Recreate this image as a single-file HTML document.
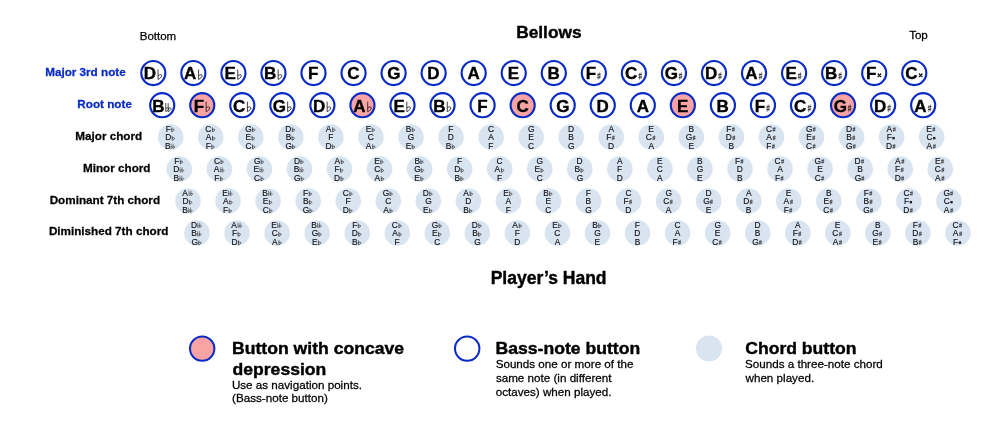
<!DOCTYPE html>
<html><head><meta charset="utf-8"><title>Stradella bass</title>
<style>
html,body{margin:0;padding:0;background:#fff;}
body{width:990px;height:435px;overflow:hidden;}
svg{display:block;will-change:transform;font-family:"Liberation Sans", sans-serif;}
</style></head>
<body>
<svg width="990" height="435" viewBox="0 0 990 435">
<text x="139.76" y="39.60" font-size="11.5" font-weight="normal" fill="#000" stroke="#000" stroke-width="0.25" text-anchor="start" >Bottom</text>
<text x="909.14" y="39.40" font-size="11.6" font-weight="normal" fill="#000" stroke="#000" stroke-width="0.26" text-anchor="start" >Top</text>
<text x="516.14" y="38.30" font-size="17.35" font-weight="bold" fill="#000" stroke="#000" stroke-width="0.38" text-anchor="start" >Bellows</text>
<text x="490.63" y="284.20" font-size="17.55" font-weight="bold" fill="#000" stroke="#000" stroke-width="0.39" text-anchor="start" >Player’s Hand</text>
<text x="125.70" y="75.50" font-size="11.7" font-weight="bold" fill="#0a2ac4" stroke="#0a2ac4" stroke-width="0.26" text-anchor="end" >Major 3rd note</text>
<text x="131.90" y="107.80" font-size="11.7" font-weight="bold" fill="#0a2ac4" stroke="#0a2ac4" stroke-width="0.26" text-anchor="end" >Root note</text>
<text x="142.17" y="139.70" font-size="11.7" font-weight="bold" fill="#000" stroke="#000" stroke-width="0.26" text-anchor="end" >Major chord</text>
<text x="150.47" y="171.50" font-size="11.7" font-weight="bold" fill="#000" stroke="#000" stroke-width="0.26" text-anchor="end" >Minor chord</text>
<text x="160.07" y="203.50" font-size="11.7" font-weight="bold" fill="#000" stroke="#000" stroke-width="0.26" text-anchor="end" >Dominant 7th chord</text>
<text x="168.37" y="235.10" font-size="11.7" font-weight="bold" fill="#000" stroke="#000" stroke-width="0.26" text-anchor="end" >Diminished 7th chord</text>
<circle cx="153.30" cy="73" r="12.05" fill="#fff" stroke="#0a2ac4" stroke-width="2.15"/>
<text x="143.85" y="79.45" font-size="17.0" font-weight="bold" fill="#000" stroke="#000" stroke-width="0.37" text-anchor="start" >D</text>
<path transform="translate(157.61,69.45)" d="M0.45,0 V10 C2.6,8.9 4.0,7.7 4.0,6.4 C4.0,5.0 2.3,4.7 0.45,6.3" fill="none" stroke="#111" stroke-width="0.8"/>
<circle cx="193.35" cy="73" r="12.05" fill="#fff" stroke="#0a2ac4" stroke-width="2.15"/>
<text x="184.12" y="79.45" font-size="17.0" font-weight="bold" fill="#000" stroke="#000" stroke-width="0.37" text-anchor="start" >A</text>
<path transform="translate(198.15,69.45)" d="M0.45,0 V10 C2.6,8.9 4.0,7.7 4.0,6.4 C4.0,5.0 2.3,4.7 0.45,6.3" fill="none" stroke="#111" stroke-width="0.8"/>
<circle cx="233.40" cy="73" r="12.05" fill="#fff" stroke="#0a2ac4" stroke-width="2.15"/>
<text x="224.39" y="79.45" font-size="17.0" font-weight="bold" fill="#000" stroke="#000" stroke-width="0.37" text-anchor="start" >E</text>
<path transform="translate(237.27,69.45)" d="M0.45,0 V10 C2.6,8.9 4.0,7.7 4.0,6.4 C4.0,5.0 2.3,4.7 0.45,6.3" fill="none" stroke="#111" stroke-width="0.8"/>
<circle cx="273.45" cy="73" r="12.05" fill="#fff" stroke="#0a2ac4" stroke-width="2.15"/>
<text x="264.03" y="79.45" font-size="17.0" font-weight="bold" fill="#000" stroke="#000" stroke-width="0.37" text-anchor="start" >B</text>
<path transform="translate(277.73,69.45)" d="M0.45,0 V10 C2.6,8.9 4.0,7.7 4.0,6.4 C4.0,5.0 2.3,4.7 0.45,6.3" fill="none" stroke="#111" stroke-width="0.8"/>
<circle cx="313.50" cy="73" r="12.05" fill="#fff" stroke="#0a2ac4" stroke-width="2.15"/>
<text x="308.05" y="79.45" font-size="17.0" font-weight="bold" fill="#000" stroke="#000" stroke-width="0.37" text-anchor="start" >F</text>
<circle cx="353.55" cy="73" r="12.05" fill="#fff" stroke="#0a2ac4" stroke-width="2.15"/>
<text x="347.30" y="79.45" font-size="17.0" font-weight="bold" fill="#000" stroke="#000" stroke-width="0.37" text-anchor="start" >C</text>
<circle cx="393.60" cy="73" r="12.05" fill="#fff" stroke="#0a2ac4" stroke-width="2.15"/>
<text x="387.17" y="79.45" font-size="17.0" font-weight="bold" fill="#000" stroke="#000" stroke-width="0.37" text-anchor="start" >G</text>
<circle cx="433.65" cy="73" r="12.05" fill="#fff" stroke="#0a2ac4" stroke-width="2.15"/>
<text x="427.30" y="79.45" font-size="17.0" font-weight="bold" fill="#000" stroke="#000" stroke-width="0.37" text-anchor="start" >D</text>
<circle cx="473.70" cy="73" r="12.05" fill="#fff" stroke="#0a2ac4" stroke-width="2.15"/>
<text x="467.57" y="79.45" font-size="17.0" font-weight="bold" fill="#000" stroke="#000" stroke-width="0.37" text-anchor="start" >A</text>
<circle cx="513.75" cy="73" r="12.05" fill="#fff" stroke="#0a2ac4" stroke-width="2.15"/>
<text x="507.84" y="79.45" font-size="17.0" font-weight="bold" fill="#000" stroke="#000" stroke-width="0.37" text-anchor="start" >E</text>
<circle cx="553.80" cy="73" r="12.05" fill="#fff" stroke="#0a2ac4" stroke-width="2.15"/>
<text x="547.48" y="79.45" font-size="17.0" font-weight="bold" fill="#000" stroke="#000" stroke-width="0.37" text-anchor="start" >B</text>
<circle cx="593.85" cy="73" r="12.05" fill="#fff" stroke="#0a2ac4" stroke-width="2.15"/>
<text x="585.65" y="79.45" font-size="17.0" font-weight="bold" fill="#000" stroke="#000" stroke-width="0.37" text-anchor="start" >F</text>
<g transform="translate(597.01,72.05)"><path d="M1.2,0.9 V7.6 M2.7,0.2 V6.9" fill="none" stroke="#111" stroke-width="0.5"/><path d="M0.2,3.0 L3.7,2.1 M0.2,5.6 L3.7,4.7" fill="none" stroke="#111" stroke-width="0.85"/></g>
<circle cx="633.90" cy="73" r="12.05" fill="#fff" stroke="#0a2ac4" stroke-width="2.15"/>
<text x="624.90" y="79.45" font-size="17.0" font-weight="bold" fill="#000" stroke="#000" stroke-width="0.37" text-anchor="start" >C</text>
<g transform="translate(638.31,72.05)"><path d="M1.2,0.9 V7.6 M2.7,0.2 V6.9" fill="none" stroke="#111" stroke-width="0.5"/><path d="M0.2,3.0 L3.7,2.1 M0.2,5.6 L3.7,4.7" fill="none" stroke="#111" stroke-width="0.85"/></g>
<circle cx="673.95" cy="73" r="12.05" fill="#fff" stroke="#0a2ac4" stroke-width="2.15"/>
<text x="664.77" y="79.45" font-size="17.0" font-weight="bold" fill="#000" stroke="#000" stroke-width="0.37" text-anchor="start" >G</text>
<g transform="translate(678.54,72.05)"><path d="M1.2,0.9 V7.6 M2.7,0.2 V6.9" fill="none" stroke="#111" stroke-width="0.5"/><path d="M0.2,3.0 L3.7,2.1 M0.2,5.6 L3.7,4.7" fill="none" stroke="#111" stroke-width="0.85"/></g>
<circle cx="714.00" cy="73" r="12.05" fill="#fff" stroke="#0a2ac4" stroke-width="2.15"/>
<text x="704.90" y="79.45" font-size="17.0" font-weight="bold" fill="#000" stroke="#000" stroke-width="0.37" text-anchor="start" >D</text>
<g transform="translate(718.06,72.05)"><path d="M1.2,0.9 V7.6 M2.7,0.2 V6.9" fill="none" stroke="#111" stroke-width="0.5"/><path d="M0.2,3.0 L3.7,2.1 M0.2,5.6 L3.7,4.7" fill="none" stroke="#111" stroke-width="0.85"/></g>
<circle cx="754.05" cy="73" r="12.05" fill="#fff" stroke="#0a2ac4" stroke-width="2.15"/>
<text x="745.17" y="79.45" font-size="17.0" font-weight="bold" fill="#000" stroke="#000" stroke-width="0.37" text-anchor="start" >A</text>
<g transform="translate(758.60,72.05)"><path d="M1.2,0.9 V7.6 M2.7,0.2 V6.9" fill="none" stroke="#111" stroke-width="0.5"/><path d="M0.2,3.0 L3.7,2.1 M0.2,5.6 L3.7,4.7" fill="none" stroke="#111" stroke-width="0.85"/></g>
<circle cx="794.10" cy="73" r="12.05" fill="#fff" stroke="#0a2ac4" stroke-width="2.15"/>
<text x="785.44" y="79.45" font-size="17.0" font-weight="bold" fill="#000" stroke="#000" stroke-width="0.37" text-anchor="start" >E</text>
<g transform="translate(797.72,72.05)"><path d="M1.2,0.9 V7.6 M2.7,0.2 V6.9" fill="none" stroke="#111" stroke-width="0.5"/><path d="M0.2,3.0 L3.7,2.1 M0.2,5.6 L3.7,4.7" fill="none" stroke="#111" stroke-width="0.85"/></g>
<circle cx="834.15" cy="73" r="12.05" fill="#fff" stroke="#0a2ac4" stroke-width="2.15"/>
<text x="825.08" y="79.45" font-size="17.0" font-weight="bold" fill="#000" stroke="#000" stroke-width="0.37" text-anchor="start" >B</text>
<g transform="translate(838.18,72.05)"><path d="M1.2,0.9 V7.6 M2.7,0.2 V6.9" fill="none" stroke="#111" stroke-width="0.5"/><path d="M0.2,3.0 L3.7,2.1 M0.2,5.6 L3.7,4.7" fill="none" stroke="#111" stroke-width="0.85"/></g>
<circle cx="874.20" cy="73" r="12.05" fill="#fff" stroke="#0a2ac4" stroke-width="2.15"/>
<text x="865.90" y="79.45" font-size="17.0" font-weight="bold" fill="#000" stroke="#000" stroke-width="0.37" text-anchor="start" >F</text>
<g transform="translate(877.36,73.35)"><path d="M0.8,0.8 L3.2,3.2 M3.2,0.8 L0.8,3.2" fill="none" stroke="#111" stroke-width="1.15"/><rect x="1.0" y="1.0" width="2.0" height="2.0" fill="#111" opacity="0.6"/><circle cx="0.75" cy="0.75" r="0.75" fill="#111"/><circle cx="3.25" cy="0.75" r="0.75" fill="#111"/><circle cx="0.75" cy="3.25" r="0.75" fill="#111"/><circle cx="3.25" cy="3.25" r="0.75" fill="#111"/></g>
<circle cx="914.25" cy="73" r="12.05" fill="#fff" stroke="#0a2ac4" stroke-width="2.15"/>
<text x="905.15" y="79.45" font-size="17.0" font-weight="bold" fill="#000" stroke="#000" stroke-width="0.37" text-anchor="start" >C</text>
<g transform="translate(918.66,73.35)"><path d="M0.8,0.8 L3.2,3.2 M3.2,0.8 L0.8,3.2" fill="none" stroke="#111" stroke-width="1.15"/><rect x="1.0" y="1.0" width="2.0" height="2.0" fill="#111" opacity="0.6"/><circle cx="0.75" cy="0.75" r="0.75" fill="#111"/><circle cx="3.25" cy="0.75" r="0.75" fill="#111"/><circle cx="0.75" cy="3.25" r="0.75" fill="#111"/><circle cx="3.25" cy="3.25" r="0.75" fill="#111"/></g>
<circle cx="162.20" cy="105.2" r="12.05" fill="#fff" stroke="#0a2ac4" stroke-width="2.15"/>
<text x="152.18" y="111.65" font-size="17.0" font-weight="bold" fill="#000" stroke="#000" stroke-width="0.37" text-anchor="start" >B</text>
<path transform="translate(165.38,103.15)" d="M0.4,0 V8.5 C2.2,7.6 3.3,6.6 3.3,5.6 C3.3,4.5 1.9,4.3 0.4,5.5 M2.8,0 V8.5 C4.6,7.6 5.7,6.6 5.7,5.6 C5.7,4.5 4.3,4.3 2.8,5.5" fill="none" stroke="#111" stroke-width="0.75"/>
<circle cx="202.25" cy="105.2" r="12.05" fill="#f9a3a5" stroke="#0a2ac4" stroke-width="2.15"/>
<text x="193.70" y="111.65" font-size="17.0" font-weight="bold" fill="#000" stroke="#000" stroke-width="0.37" text-anchor="start" >F</text>
<path transform="translate(205.66,101.65)" d="M0.45,0 V10 C2.6,8.9 4.0,7.7 4.0,6.4 C4.0,5.0 2.3,4.7 0.45,6.3" fill="none" stroke="#111" stroke-width="0.8"/>
<circle cx="242.30" cy="105.2" r="12.05" fill="#fff" stroke="#0a2ac4" stroke-width="2.15"/>
<text x="232.95" y="111.65" font-size="17.0" font-weight="bold" fill="#000" stroke="#000" stroke-width="0.37" text-anchor="start" >C</text>
<path transform="translate(246.96,101.65)" d="M0.45,0 V10 C2.6,8.9 4.0,7.7 4.0,6.4 C4.0,5.0 2.3,4.7 0.45,6.3" fill="none" stroke="#111" stroke-width="0.8"/>
<circle cx="282.35" cy="105.2" r="12.05" fill="#fff" stroke="#0a2ac4" stroke-width="2.15"/>
<text x="272.82" y="111.65" font-size="17.0" font-weight="bold" fill="#000" stroke="#000" stroke-width="0.37" text-anchor="start" >G</text>
<path transform="translate(287.19,101.65)" d="M0.45,0 V10 C2.6,8.9 4.0,7.7 4.0,6.4 C4.0,5.0 2.3,4.7 0.45,6.3" fill="none" stroke="#111" stroke-width="0.8"/>
<circle cx="322.40" cy="105.2" r="12.05" fill="#fff" stroke="#0a2ac4" stroke-width="2.15"/>
<text x="312.95" y="111.65" font-size="17.0" font-weight="bold" fill="#000" stroke="#000" stroke-width="0.37" text-anchor="start" >D</text>
<path transform="translate(326.71,101.65)" d="M0.45,0 V10 C2.6,8.9 4.0,7.7 4.0,6.4 C4.0,5.0 2.3,4.7 0.45,6.3" fill="none" stroke="#111" stroke-width="0.8"/>
<circle cx="362.45" cy="105.2" r="12.05" fill="#f9a3a5" stroke="#0a2ac4" stroke-width="2.15"/>
<text x="353.22" y="111.65" font-size="17.0" font-weight="bold" fill="#000" stroke="#000" stroke-width="0.37" text-anchor="start" >A</text>
<path transform="translate(367.25,101.65)" d="M0.45,0 V10 C2.6,8.9 4.0,7.7 4.0,6.4 C4.0,5.0 2.3,4.7 0.45,6.3" fill="none" stroke="#111" stroke-width="0.8"/>
<circle cx="402.50" cy="105.2" r="12.05" fill="#fff" stroke="#0a2ac4" stroke-width="2.15"/>
<text x="393.49" y="111.65" font-size="17.0" font-weight="bold" fill="#000" stroke="#000" stroke-width="0.37" text-anchor="start" >E</text>
<path transform="translate(406.37,101.65)" d="M0.45,0 V10 C2.6,8.9 4.0,7.7 4.0,6.4 C4.0,5.0 2.3,4.7 0.45,6.3" fill="none" stroke="#111" stroke-width="0.8"/>
<circle cx="442.55" cy="105.2" r="12.05" fill="#fff" stroke="#0a2ac4" stroke-width="2.15"/>
<text x="433.13" y="111.65" font-size="17.0" font-weight="bold" fill="#000" stroke="#000" stroke-width="0.37" text-anchor="start" >B</text>
<path transform="translate(446.83,101.65)" d="M0.45,0 V10 C2.6,8.9 4.0,7.7 4.0,6.4 C4.0,5.0 2.3,4.7 0.45,6.3" fill="none" stroke="#111" stroke-width="0.8"/>
<circle cx="482.60" cy="105.2" r="12.05" fill="#fff" stroke="#0a2ac4" stroke-width="2.15"/>
<text x="477.15" y="111.65" font-size="17.0" font-weight="bold" fill="#000" stroke="#000" stroke-width="0.37" text-anchor="start" >F</text>
<circle cx="522.65" cy="105.2" r="12.05" fill="#f9a3a5" stroke="#0a2ac4" stroke-width="2.15"/>
<text x="516.40" y="111.65" font-size="17.0" font-weight="bold" fill="#000" stroke="#000" stroke-width="0.37" text-anchor="start" >C</text>
<circle cx="562.70" cy="105.2" r="12.05" fill="#fff" stroke="#0a2ac4" stroke-width="2.15"/>
<text x="556.27" y="111.65" font-size="17.0" font-weight="bold" fill="#000" stroke="#000" stroke-width="0.37" text-anchor="start" >G</text>
<circle cx="602.75" cy="105.2" r="12.05" fill="#fff" stroke="#0a2ac4" stroke-width="2.15"/>
<text x="596.40" y="111.65" font-size="17.0" font-weight="bold" fill="#000" stroke="#000" stroke-width="0.37" text-anchor="start" >D</text>
<circle cx="642.80" cy="105.2" r="12.05" fill="#fff" stroke="#0a2ac4" stroke-width="2.15"/>
<text x="636.67" y="111.65" font-size="17.0" font-weight="bold" fill="#000" stroke="#000" stroke-width="0.37" text-anchor="start" >A</text>
<circle cx="682.85" cy="105.2" r="12.05" fill="#f9a3a5" stroke="#0a2ac4" stroke-width="2.15"/>
<text x="676.94" y="111.65" font-size="17.0" font-weight="bold" fill="#000" stroke="#000" stroke-width="0.37" text-anchor="start" >E</text>
<circle cx="722.90" cy="105.2" r="12.05" fill="#fff" stroke="#0a2ac4" stroke-width="2.15"/>
<text x="716.58" y="111.65" font-size="17.0" font-weight="bold" fill="#000" stroke="#000" stroke-width="0.37" text-anchor="start" >B</text>
<circle cx="762.95" cy="105.2" r="12.05" fill="#fff" stroke="#0a2ac4" stroke-width="2.15"/>
<text x="754.75" y="111.65" font-size="17.0" font-weight="bold" fill="#000" stroke="#000" stroke-width="0.37" text-anchor="start" >F</text>
<g transform="translate(766.11,104.25)"><path d="M1.2,0.9 V7.6 M2.7,0.2 V6.9" fill="none" stroke="#111" stroke-width="0.5"/><path d="M0.2,3.0 L3.7,2.1 M0.2,5.6 L3.7,4.7" fill="none" stroke="#111" stroke-width="0.85"/></g>
<circle cx="803.00" cy="105.2" r="12.05" fill="#fff" stroke="#0a2ac4" stroke-width="2.15"/>
<text x="794.00" y="111.65" font-size="17.0" font-weight="bold" fill="#000" stroke="#000" stroke-width="0.37" text-anchor="start" >C</text>
<g transform="translate(807.41,104.25)"><path d="M1.2,0.9 V7.6 M2.7,0.2 V6.9" fill="none" stroke="#111" stroke-width="0.5"/><path d="M0.2,3.0 L3.7,2.1 M0.2,5.6 L3.7,4.7" fill="none" stroke="#111" stroke-width="0.85"/></g>
<circle cx="843.05" cy="105.2" r="12.05" fill="#f9a3a5" stroke="#0a2ac4" stroke-width="2.15"/>
<text x="833.87" y="111.65" font-size="17.0" font-weight="bold" fill="#000" stroke="#000" stroke-width="0.37" text-anchor="start" >G</text>
<g transform="translate(847.64,104.25)"><path d="M1.2,0.9 V7.6 M2.7,0.2 V6.9" fill="none" stroke="#111" stroke-width="0.5"/><path d="M0.2,3.0 L3.7,2.1 M0.2,5.6 L3.7,4.7" fill="none" stroke="#111" stroke-width="0.85"/></g>
<circle cx="883.10" cy="105.2" r="12.05" fill="#fff" stroke="#0a2ac4" stroke-width="2.15"/>
<text x="874.00" y="111.65" font-size="17.0" font-weight="bold" fill="#000" stroke="#000" stroke-width="0.37" text-anchor="start" >D</text>
<g transform="translate(887.16,104.25)"><path d="M1.2,0.9 V7.6 M2.7,0.2 V6.9" fill="none" stroke="#111" stroke-width="0.5"/><path d="M0.2,3.0 L3.7,2.1 M0.2,5.6 L3.7,4.7" fill="none" stroke="#111" stroke-width="0.85"/></g>
<circle cx="923.15" cy="105.2" r="12.05" fill="#fff" stroke="#0a2ac4" stroke-width="2.15"/>
<text x="914.27" y="111.65" font-size="17.0" font-weight="bold" fill="#000" stroke="#000" stroke-width="0.37" text-anchor="start" >A</text>
<g transform="translate(927.70,104.25)"><path d="M1.2,0.9 V7.6 M2.7,0.2 V6.9" fill="none" stroke="#111" stroke-width="0.5"/><path d="M0.2,3.0 L3.7,2.1 M0.2,5.6 L3.7,4.7" fill="none" stroke="#111" stroke-width="0.85"/></g>
<circle cx="170.70" cy="137" r="12.8" fill="#d9e4f1"/>
<text transform="translate(165.66,131.85) scale(1.0,1.06)" font-size="8.4" font-weight="normal" fill="#111" stroke="#111" stroke-width="0.14" text-anchor="start" >F</text>
<path transform="translate(171.35,127.35)" d="M0.35,0 V4.4 C1.7,4.0 2.7,3.3 2.7,2.5 C2.7,1.6 1.4,1.5 0.35,2.3" fill="none" stroke="#222" stroke-width="0.7"/>
<text transform="translate(165.22,140.35) scale(1.0,1.06)" font-size="8.4" font-weight="normal" fill="#111" stroke="#111" stroke-width="0.14" text-anchor="start" >D</text>
<path transform="translate(171.79,135.85)" d="M0.35,0 V4.4 C1.7,4.0 2.7,3.3 2.7,2.5 C2.7,1.6 1.4,1.5 0.35,2.3" fill="none" stroke="#222" stroke-width="0.7"/>
<text transform="translate(164.88,148.85) scale(1.0,1.06)" font-size="8.4" font-weight="normal" fill="#111" stroke="#111" stroke-width="0.14" text-anchor="start" >B</text>
<path transform="translate(170.84,143.65)" d="M0.3,0 V5.0 C1.3,4.6 2.0,3.9 2.0,3.2 C2.0,2.4 1.1,2.2 0.3,3.0 M2.3,0 V5.0 C3.3,4.6 4.0,3.9 4.0,3.2 C4.0,2.4 3.1,2.2 2.3,3.0" fill="none" stroke="#222" stroke-width="0.5"/>
<circle cx="210.75" cy="137" r="12.8" fill="#d9e4f1"/>
<text transform="translate(205.36,131.85) scale(1.0,1.06)" font-size="8.4" font-weight="normal" fill="#111" stroke="#111" stroke-width="0.14" text-anchor="start" >C</text>
<path transform="translate(212.01,127.35)" d="M0.35,0 V4.4 C1.7,4.0 2.7,3.3 2.7,2.5 C2.7,1.6 1.4,1.5 0.35,2.3" fill="none" stroke="#222" stroke-width="0.7"/>
<text transform="translate(205.65,140.35) scale(1.0,1.06)" font-size="8.4" font-weight="normal" fill="#111" stroke="#111" stroke-width="0.14" text-anchor="start" >A</text>
<path transform="translate(212.13,135.85)" d="M0.35,0 V4.4 C1.7,4.0 2.7,3.3 2.7,2.5 C2.7,1.6 1.4,1.5 0.35,2.3" fill="none" stroke="#222" stroke-width="0.7"/>
<text transform="translate(205.71,148.85) scale(1.0,1.06)" font-size="8.4" font-weight="normal" fill="#111" stroke="#111" stroke-width="0.14" text-anchor="start" >F</text>
<path transform="translate(211.40,144.35)" d="M0.35,0 V4.4 C1.7,4.0 2.7,3.3 2.7,2.5 C2.7,1.6 1.4,1.5 0.35,2.3" fill="none" stroke="#222" stroke-width="0.7"/>
<circle cx="250.80" cy="137" r="12.8" fill="#d9e4f1"/>
<text transform="translate(245.34,131.85) scale(1.0,1.06)" font-size="8.4" font-weight="normal" fill="#111" stroke="#111" stroke-width="0.14" text-anchor="start" >G</text>
<path transform="translate(252.14,127.35)" d="M0.35,0 V4.4 C1.7,4.0 2.7,3.3 2.7,2.5 C2.7,1.6 1.4,1.5 0.35,2.3" fill="none" stroke="#222" stroke-width="0.7"/>
<text transform="translate(245.53,140.35) scale(1.0,1.06)" font-size="8.4" font-weight="normal" fill="#111" stroke="#111" stroke-width="0.14" text-anchor="start" >E</text>
<path transform="translate(251.68,135.85)" d="M0.35,0 V4.4 C1.7,4.0 2.7,3.3 2.7,2.5 C2.7,1.6 1.4,1.5 0.35,2.3" fill="none" stroke="#222" stroke-width="0.7"/>
<text transform="translate(245.41,148.85) scale(1.0,1.06)" font-size="8.4" font-weight="normal" fill="#111" stroke="#111" stroke-width="0.14" text-anchor="start" >C</text>
<path transform="translate(252.06,144.35)" d="M0.35,0 V4.4 C1.7,4.0 2.7,3.3 2.7,2.5 C2.7,1.6 1.4,1.5 0.35,2.3" fill="none" stroke="#222" stroke-width="0.7"/>
<circle cx="290.85" cy="137" r="12.8" fill="#d9e4f1"/>
<text transform="translate(285.37,131.85) scale(1.0,1.06)" font-size="8.4" font-weight="normal" fill="#111" stroke="#111" stroke-width="0.14" text-anchor="start" >D</text>
<path transform="translate(291.94,127.35)" d="M0.35,0 V4.4 C1.7,4.0 2.7,3.3 2.7,2.5 C2.7,1.6 1.4,1.5 0.35,2.3" fill="none" stroke="#222" stroke-width="0.7"/>
<text transform="translate(285.63,140.35) scale(1.0,1.06)" font-size="8.4" font-weight="normal" fill="#111" stroke="#111" stroke-width="0.14" text-anchor="start" >B</text>
<path transform="translate(291.69,135.85)" d="M0.35,0 V4.4 C1.7,4.0 2.7,3.3 2.7,2.5 C2.7,1.6 1.4,1.5 0.35,2.3" fill="none" stroke="#222" stroke-width="0.7"/>
<text transform="translate(285.39,148.85) scale(1.0,1.06)" font-size="8.4" font-weight="normal" fill="#111" stroke="#111" stroke-width="0.14" text-anchor="start" >G</text>
<path transform="translate(292.19,144.35)" d="M0.35,0 V4.4 C1.7,4.0 2.7,3.3 2.7,2.5 C2.7,1.6 1.4,1.5 0.35,2.3" fill="none" stroke="#222" stroke-width="0.7"/>
<circle cx="330.90" cy="137" r="12.8" fill="#d9e4f1"/>
<text transform="translate(325.80,131.85) scale(1.0,1.06)" font-size="8.4" font-weight="normal" fill="#111" stroke="#111" stroke-width="0.14" text-anchor="start" >A</text>
<path transform="translate(332.28,127.35)" d="M0.35,0 V4.4 C1.7,4.0 2.7,3.3 2.7,2.5 C2.7,1.6 1.4,1.5 0.35,2.3" fill="none" stroke="#222" stroke-width="0.7"/>
<text transform="translate(328.16,140.35) scale(1.0,1.06)" font-size="8.4" font-weight="normal" fill="#111" stroke="#111" stroke-width="0.14" text-anchor="start" >F</text>
<text transform="translate(325.42,148.85) scale(1.0,1.06)" font-size="8.4" font-weight="normal" fill="#111" stroke="#111" stroke-width="0.14" text-anchor="start" >D</text>
<path transform="translate(331.99,144.35)" d="M0.35,0 V4.4 C1.7,4.0 2.7,3.3 2.7,2.5 C2.7,1.6 1.4,1.5 0.35,2.3" fill="none" stroke="#222" stroke-width="0.7"/>
<circle cx="370.95" cy="137" r="12.8" fill="#d9e4f1"/>
<text transform="translate(365.68,131.85) scale(1.0,1.06)" font-size="8.4" font-weight="normal" fill="#111" stroke="#111" stroke-width="0.14" text-anchor="start" >E</text>
<path transform="translate(371.83,127.35)" d="M0.35,0 V4.4 C1.7,4.0 2.7,3.3 2.7,2.5 C2.7,1.6 1.4,1.5 0.35,2.3" fill="none" stroke="#222" stroke-width="0.7"/>
<text transform="translate(367.86,140.35) scale(1.0,1.06)" font-size="8.4" font-weight="normal" fill="#111" stroke="#111" stroke-width="0.14" text-anchor="start" >C</text>
<text transform="translate(365.85,148.85) scale(1.0,1.06)" font-size="8.4" font-weight="normal" fill="#111" stroke="#111" stroke-width="0.14" text-anchor="start" >A</text>
<path transform="translate(372.33,144.35)" d="M0.35,0 V4.4 C1.7,4.0 2.7,3.3 2.7,2.5 C2.7,1.6 1.4,1.5 0.35,2.3" fill="none" stroke="#222" stroke-width="0.7"/>
<circle cx="411.00" cy="137" r="12.8" fill="#d9e4f1"/>
<text transform="translate(405.78,131.85) scale(1.0,1.06)" font-size="8.4" font-weight="normal" fill="#111" stroke="#111" stroke-width="0.14" text-anchor="start" >B</text>
<path transform="translate(411.84,127.35)" d="M0.35,0 V4.4 C1.7,4.0 2.7,3.3 2.7,2.5 C2.7,1.6 1.4,1.5 0.35,2.3" fill="none" stroke="#222" stroke-width="0.7"/>
<text transform="translate(407.84,140.35) scale(1.0,1.06)" font-size="8.4" font-weight="normal" fill="#111" stroke="#111" stroke-width="0.14" text-anchor="start" >G</text>
<text transform="translate(405.73,148.85) scale(1.0,1.06)" font-size="8.4" font-weight="normal" fill="#111" stroke="#111" stroke-width="0.14" text-anchor="start" >E</text>
<path transform="translate(411.88,144.35)" d="M0.35,0 V4.4 C1.7,4.0 2.7,3.3 2.7,2.5 C2.7,1.6 1.4,1.5 0.35,2.3" fill="none" stroke="#222" stroke-width="0.7"/>
<circle cx="451.05" cy="137" r="12.8" fill="#d9e4f1"/>
<text transform="translate(448.31,131.85) scale(1.0,1.06)" font-size="8.4" font-weight="normal" fill="#111" stroke="#111" stroke-width="0.14" text-anchor="start" >F</text>
<text transform="translate(447.87,140.35) scale(1.0,1.06)" font-size="8.4" font-weight="normal" fill="#111" stroke="#111" stroke-width="0.14" text-anchor="start" >D</text>
<text transform="translate(445.83,148.85) scale(1.0,1.06)" font-size="8.4" font-weight="normal" fill="#111" stroke="#111" stroke-width="0.14" text-anchor="start" >B</text>
<path transform="translate(451.89,144.35)" d="M0.35,0 V4.4 C1.7,4.0 2.7,3.3 2.7,2.5 C2.7,1.6 1.4,1.5 0.35,2.3" fill="none" stroke="#222" stroke-width="0.7"/>
<circle cx="491.10" cy="137" r="12.8" fill="#d9e4f1"/>
<text transform="translate(488.01,131.85) scale(1.0,1.06)" font-size="8.4" font-weight="normal" fill="#111" stroke="#111" stroke-width="0.14" text-anchor="start" >C</text>
<text transform="translate(488.30,140.35) scale(1.0,1.06)" font-size="8.4" font-weight="normal" fill="#111" stroke="#111" stroke-width="0.14" text-anchor="start" >A</text>
<text transform="translate(488.36,148.85) scale(1.0,1.06)" font-size="8.4" font-weight="normal" fill="#111" stroke="#111" stroke-width="0.14" text-anchor="start" >F</text>
<circle cx="531.15" cy="137" r="12.8" fill="#d9e4f1"/>
<text transform="translate(527.99,131.85) scale(1.0,1.06)" font-size="8.4" font-weight="normal" fill="#111" stroke="#111" stroke-width="0.14" text-anchor="start" >G</text>
<text transform="translate(528.18,140.35) scale(1.0,1.06)" font-size="8.4" font-weight="normal" fill="#111" stroke="#111" stroke-width="0.14" text-anchor="start" >E</text>
<text transform="translate(528.06,148.85) scale(1.0,1.06)" font-size="8.4" font-weight="normal" fill="#111" stroke="#111" stroke-width="0.14" text-anchor="start" >C</text>
<circle cx="571.20" cy="137" r="12.8" fill="#d9e4f1"/>
<text transform="translate(568.02,131.85) scale(1.0,1.06)" font-size="8.4" font-weight="normal" fill="#111" stroke="#111" stroke-width="0.14" text-anchor="start" >D</text>
<text transform="translate(568.28,140.35) scale(1.0,1.06)" font-size="8.4" font-weight="normal" fill="#111" stroke="#111" stroke-width="0.14" text-anchor="start" >B</text>
<text transform="translate(568.04,148.85) scale(1.0,1.06)" font-size="8.4" font-weight="normal" fill="#111" stroke="#111" stroke-width="0.14" text-anchor="start" >G</text>
<circle cx="611.25" cy="137" r="12.8" fill="#d9e4f1"/>
<text transform="translate(608.45,131.85) scale(1.0,1.06)" font-size="8.4" font-weight="normal" fill="#111" stroke="#111" stroke-width="0.14" text-anchor="start" >A</text>
<text transform="translate(606.16,140.35) scale(1.0,1.06)" font-size="8.4" font-weight="normal" fill="#111" stroke="#111" stroke-width="0.14" text-anchor="start" >F</text>
<g transform="translate(611.65,135.35)"><path d="M1.0,0.5 V5 M2.2,0 V4.5" fill="none" stroke="#222" stroke-width="0.45"/><path d="M0.1,2.0 L3.0,1.3 M0.1,3.8 L3.0,3.1" fill="none" stroke="#222" stroke-width="0.7"/></g>
<text transform="translate(608.07,148.85) scale(1.0,1.06)" font-size="8.4" font-weight="normal" fill="#111" stroke="#111" stroke-width="0.14" text-anchor="start" >D</text>
<circle cx="651.30" cy="137" r="12.8" fill="#d9e4f1"/>
<text transform="translate(648.33,131.85) scale(1.0,1.06)" font-size="8.4" font-weight="normal" fill="#111" stroke="#111" stroke-width="0.14" text-anchor="start" >E</text>
<text transform="translate(645.86,140.35) scale(1.0,1.06)" font-size="8.4" font-weight="normal" fill="#111" stroke="#111" stroke-width="0.14" text-anchor="start" >C</text>
<g transform="translate(652.31,135.35)"><path d="M1.0,0.5 V5 M2.2,0 V4.5" fill="none" stroke="#222" stroke-width="0.45"/><path d="M0.1,2.0 L3.0,1.3 M0.1,3.8 L3.0,3.1" fill="none" stroke="#222" stroke-width="0.7"/></g>
<text transform="translate(648.50,148.85) scale(1.0,1.06)" font-size="8.4" font-weight="normal" fill="#111" stroke="#111" stroke-width="0.14" text-anchor="start" >A</text>
<circle cx="691.35" cy="137" r="12.8" fill="#d9e4f1"/>
<text transform="translate(688.43,131.85) scale(1.0,1.06)" font-size="8.4" font-weight="normal" fill="#111" stroke="#111" stroke-width="0.14" text-anchor="start" >B</text>
<text transform="translate(685.84,140.35) scale(1.0,1.06)" font-size="8.4" font-weight="normal" fill="#111" stroke="#111" stroke-width="0.14" text-anchor="start" >G</text>
<g transform="translate(692.44,135.35)"><path d="M1.0,0.5 V5 M2.2,0 V4.5" fill="none" stroke="#222" stroke-width="0.45"/><path d="M0.1,2.0 L3.0,1.3 M0.1,3.8 L3.0,3.1" fill="none" stroke="#222" stroke-width="0.7"/></g>
<text transform="translate(688.38,148.85) scale(1.0,1.06)" font-size="8.4" font-weight="normal" fill="#111" stroke="#111" stroke-width="0.14" text-anchor="start" >E</text>
<circle cx="731.40" cy="137" r="12.8" fill="#d9e4f1"/>
<text transform="translate(726.31,131.85) scale(1.0,1.06)" font-size="8.4" font-weight="normal" fill="#111" stroke="#111" stroke-width="0.14" text-anchor="start" >F</text>
<g transform="translate(731.80,126.85)"><path d="M1.0,0.5 V5 M2.2,0 V4.5" fill="none" stroke="#222" stroke-width="0.45"/><path d="M0.1,2.0 L3.0,1.3 M0.1,3.8 L3.0,3.1" fill="none" stroke="#222" stroke-width="0.7"/></g>
<text transform="translate(725.87,140.35) scale(1.0,1.06)" font-size="8.4" font-weight="normal" fill="#111" stroke="#111" stroke-width="0.14" text-anchor="start" >D</text>
<g transform="translate(732.24,135.35)"><path d="M1.0,0.5 V5 M2.2,0 V4.5" fill="none" stroke="#222" stroke-width="0.45"/><path d="M0.1,2.0 L3.0,1.3 M0.1,3.8 L3.0,3.1" fill="none" stroke="#222" stroke-width="0.7"/></g>
<text transform="translate(728.48,148.85) scale(1.0,1.06)" font-size="8.4" font-weight="normal" fill="#111" stroke="#111" stroke-width="0.14" text-anchor="start" >B</text>
<circle cx="771.45" cy="137" r="12.8" fill="#d9e4f1"/>
<text transform="translate(766.01,131.85) scale(1.0,1.06)" font-size="8.4" font-weight="normal" fill="#111" stroke="#111" stroke-width="0.14" text-anchor="start" >C</text>
<g transform="translate(772.46,126.85)"><path d="M1.0,0.5 V5 M2.2,0 V4.5" fill="none" stroke="#222" stroke-width="0.45"/><path d="M0.1,2.0 L3.0,1.3 M0.1,3.8 L3.0,3.1" fill="none" stroke="#222" stroke-width="0.7"/></g>
<text transform="translate(766.30,140.35) scale(1.0,1.06)" font-size="8.4" font-weight="normal" fill="#111" stroke="#111" stroke-width="0.14" text-anchor="start" >A</text>
<g transform="translate(772.58,135.35)"><path d="M1.0,0.5 V5 M2.2,0 V4.5" fill="none" stroke="#222" stroke-width="0.45"/><path d="M0.1,2.0 L3.0,1.3 M0.1,3.8 L3.0,3.1" fill="none" stroke="#222" stroke-width="0.7"/></g>
<text transform="translate(766.36,148.85) scale(1.0,1.06)" font-size="8.4" font-weight="normal" fill="#111" stroke="#111" stroke-width="0.14" text-anchor="start" >F</text>
<g transform="translate(771.85,143.85)"><path d="M1.0,0.5 V5 M2.2,0 V4.5" fill="none" stroke="#222" stroke-width="0.45"/><path d="M0.1,2.0 L3.0,1.3 M0.1,3.8 L3.0,3.1" fill="none" stroke="#222" stroke-width="0.7"/></g>
<circle cx="811.50" cy="137" r="12.8" fill="#d9e4f1"/>
<text transform="translate(805.99,131.85) scale(1.0,1.06)" font-size="8.4" font-weight="normal" fill="#111" stroke="#111" stroke-width="0.14" text-anchor="start" >G</text>
<g transform="translate(812.59,126.85)"><path d="M1.0,0.5 V5 M2.2,0 V4.5" fill="none" stroke="#222" stroke-width="0.45"/><path d="M0.1,2.0 L3.0,1.3 M0.1,3.8 L3.0,3.1" fill="none" stroke="#222" stroke-width="0.7"/></g>
<text transform="translate(806.18,140.35) scale(1.0,1.06)" font-size="8.4" font-weight="normal" fill="#111" stroke="#111" stroke-width="0.14" text-anchor="start" >E</text>
<g transform="translate(812.13,135.35)"><path d="M1.0,0.5 V5 M2.2,0 V4.5" fill="none" stroke="#222" stroke-width="0.45"/><path d="M0.1,2.0 L3.0,1.3 M0.1,3.8 L3.0,3.1" fill="none" stroke="#222" stroke-width="0.7"/></g>
<text transform="translate(806.06,148.85) scale(1.0,1.06)" font-size="8.4" font-weight="normal" fill="#111" stroke="#111" stroke-width="0.14" text-anchor="start" >C</text>
<g transform="translate(812.51,143.85)"><path d="M1.0,0.5 V5 M2.2,0 V4.5" fill="none" stroke="#222" stroke-width="0.45"/><path d="M0.1,2.0 L3.0,1.3 M0.1,3.8 L3.0,3.1" fill="none" stroke="#222" stroke-width="0.7"/></g>
<circle cx="851.55" cy="137" r="12.8" fill="#d9e4f1"/>
<text transform="translate(846.02,131.85) scale(1.0,1.06)" font-size="8.4" font-weight="normal" fill="#111" stroke="#111" stroke-width="0.14" text-anchor="start" >D</text>
<g transform="translate(852.39,126.85)"><path d="M1.0,0.5 V5 M2.2,0 V4.5" fill="none" stroke="#222" stroke-width="0.45"/><path d="M0.1,2.0 L3.0,1.3 M0.1,3.8 L3.0,3.1" fill="none" stroke="#222" stroke-width="0.7"/></g>
<text transform="translate(846.28,140.35) scale(1.0,1.06)" font-size="8.4" font-weight="normal" fill="#111" stroke="#111" stroke-width="0.14" text-anchor="start" >B</text>
<g transform="translate(852.14,135.35)"><path d="M1.0,0.5 V5 M2.2,0 V4.5" fill="none" stroke="#222" stroke-width="0.45"/><path d="M0.1,2.0 L3.0,1.3 M0.1,3.8 L3.0,3.1" fill="none" stroke="#222" stroke-width="0.7"/></g>
<text transform="translate(846.04,148.85) scale(1.0,1.06)" font-size="8.4" font-weight="normal" fill="#111" stroke="#111" stroke-width="0.14" text-anchor="start" >G</text>
<g transform="translate(852.64,143.85)"><path d="M1.0,0.5 V5 M2.2,0 V4.5" fill="none" stroke="#222" stroke-width="0.45"/><path d="M0.1,2.0 L3.0,1.3 M0.1,3.8 L3.0,3.1" fill="none" stroke="#222" stroke-width="0.7"/></g>
<circle cx="891.60" cy="137" r="12.8" fill="#d9e4f1"/>
<text transform="translate(886.45,131.85) scale(1.0,1.06)" font-size="8.4" font-weight="normal" fill="#111" stroke="#111" stroke-width="0.14" text-anchor="start" >A</text>
<g transform="translate(892.73,126.85)"><path d="M1.0,0.5 V5 M2.2,0 V4.5" fill="none" stroke="#222" stroke-width="0.45"/><path d="M0.1,2.0 L3.0,1.3 M0.1,3.8 L3.0,3.1" fill="none" stroke="#222" stroke-width="0.7"/></g>
<text transform="translate(886.76,140.35) scale(1.0,1.06)" font-size="8.4" font-weight="normal" fill="#111" stroke="#111" stroke-width="0.14" text-anchor="start" >F</text>
<rect transform="translate(892.35,136.95)" x="0" y="0" width="2.4" height="2.4" fill="#222"/>
<text transform="translate(886.07,148.85) scale(1.0,1.06)" font-size="8.4" font-weight="normal" fill="#111" stroke="#111" stroke-width="0.14" text-anchor="start" >D</text>
<g transform="translate(892.44,143.85)"><path d="M1.0,0.5 V5 M2.2,0 V4.5" fill="none" stroke="#222" stroke-width="0.45"/><path d="M0.1,2.0 L3.0,1.3 M0.1,3.8 L3.0,3.1" fill="none" stroke="#222" stroke-width="0.7"/></g>
<circle cx="931.65" cy="137" r="12.8" fill="#d9e4f1"/>
<text transform="translate(926.33,131.85) scale(1.0,1.06)" font-size="8.4" font-weight="normal" fill="#111" stroke="#111" stroke-width="0.14" text-anchor="start" >E</text>
<g transform="translate(932.28,126.85)"><path d="M1.0,0.5 V5 M2.2,0 V4.5" fill="none" stroke="#222" stroke-width="0.45"/><path d="M0.1,2.0 L3.0,1.3 M0.1,3.8 L3.0,3.1" fill="none" stroke="#222" stroke-width="0.7"/></g>
<text transform="translate(926.46,140.35) scale(1.0,1.06)" font-size="8.4" font-weight="normal" fill="#111" stroke="#111" stroke-width="0.14" text-anchor="start" >C</text>
<rect transform="translate(933.01,136.95)" x="0" y="0" width="2.4" height="2.4" fill="#222"/>
<text transform="translate(926.50,148.85) scale(1.0,1.06)" font-size="8.4" font-weight="normal" fill="#111" stroke="#111" stroke-width="0.14" text-anchor="start" >A</text>
<g transform="translate(932.78,143.85)"><path d="M1.0,0.5 V5 M2.2,0 V4.5" fill="none" stroke="#222" stroke-width="0.45"/><path d="M0.1,2.0 L3.0,1.3 M0.1,3.8 L3.0,3.1" fill="none" stroke="#222" stroke-width="0.7"/></g>
<circle cx="179.30" cy="169" r="12.8" fill="#d9e4f1"/>
<text transform="translate(174.26,163.85) scale(1.0,1.06)" font-size="8.4" font-weight="normal" fill="#111" stroke="#111" stroke-width="0.14" text-anchor="start" >F</text>
<path transform="translate(179.95,159.35)" d="M0.35,0 V4.4 C1.7,4.0 2.7,3.3 2.7,2.5 C2.7,1.6 1.4,1.5 0.35,2.3" fill="none" stroke="#222" stroke-width="0.7"/>
<text transform="translate(173.22,172.35) scale(1.0,1.06)" font-size="8.4" font-weight="normal" fill="#111" stroke="#111" stroke-width="0.14" text-anchor="start" >D</text>
<path transform="translate(179.69,167.15)" d="M0.3,0 V5.0 C1.3,4.6 2.0,3.9 2.0,3.2 C2.0,2.4 1.1,2.2 0.3,3.0 M2.3,0 V5.0 C3.3,4.6 4.0,3.9 4.0,3.2 C4.0,2.4 3.1,2.2 2.3,3.0" fill="none" stroke="#222" stroke-width="0.5"/>
<text transform="translate(173.48,180.85) scale(1.0,1.06)" font-size="8.4" font-weight="normal" fill="#111" stroke="#111" stroke-width="0.14" text-anchor="start" >B</text>
<path transform="translate(179.44,175.65)" d="M0.3,0 V5.0 C1.3,4.6 2.0,3.9 2.0,3.2 C2.0,2.4 1.1,2.2 0.3,3.0 M2.3,0 V5.0 C3.3,4.6 4.0,3.9 4.0,3.2 C4.0,2.4 3.1,2.2 2.3,3.0" fill="none" stroke="#222" stroke-width="0.5"/>
<circle cx="219.35" cy="169" r="12.8" fill="#d9e4f1"/>
<text transform="translate(213.96,163.85) scale(1.0,1.06)" font-size="8.4" font-weight="normal" fill="#111" stroke="#111" stroke-width="0.14" text-anchor="start" >C</text>
<path transform="translate(220.61,159.35)" d="M0.35,0 V4.4 C1.7,4.0 2.7,3.3 2.7,2.5 C2.7,1.6 1.4,1.5 0.35,2.3" fill="none" stroke="#222" stroke-width="0.7"/>
<text transform="translate(213.65,172.35) scale(1.0,1.06)" font-size="8.4" font-weight="normal" fill="#111" stroke="#111" stroke-width="0.14" text-anchor="start" >A</text>
<path transform="translate(220.03,167.15)" d="M0.3,0 V5.0 C1.3,4.6 2.0,3.9 2.0,3.2 C2.0,2.4 1.1,2.2 0.3,3.0 M2.3,0 V5.0 C3.3,4.6 4.0,3.9 4.0,3.2 C4.0,2.4 3.1,2.2 2.3,3.0" fill="none" stroke="#222" stroke-width="0.5"/>
<text transform="translate(214.31,180.85) scale(1.0,1.06)" font-size="8.4" font-weight="normal" fill="#111" stroke="#111" stroke-width="0.14" text-anchor="start" >F</text>
<path transform="translate(220.00,176.35)" d="M0.35,0 V4.4 C1.7,4.0 2.7,3.3 2.7,2.5 C2.7,1.6 1.4,1.5 0.35,2.3" fill="none" stroke="#222" stroke-width="0.7"/>
<circle cx="259.40" cy="169" r="12.8" fill="#d9e4f1"/>
<text transform="translate(253.94,163.85) scale(1.0,1.06)" font-size="8.4" font-weight="normal" fill="#111" stroke="#111" stroke-width="0.14" text-anchor="start" >G</text>
<path transform="translate(260.74,159.35)" d="M0.35,0 V4.4 C1.7,4.0 2.7,3.3 2.7,2.5 C2.7,1.6 1.4,1.5 0.35,2.3" fill="none" stroke="#222" stroke-width="0.7"/>
<text transform="translate(253.53,172.35) scale(1.0,1.06)" font-size="8.4" font-weight="normal" fill="#111" stroke="#111" stroke-width="0.14" text-anchor="start" >E</text>
<path transform="translate(259.58,167.15)" d="M0.3,0 V5.0 C1.3,4.6 2.0,3.9 2.0,3.2 C2.0,2.4 1.1,2.2 0.3,3.0 M2.3,0 V5.0 C3.3,4.6 4.0,3.9 4.0,3.2 C4.0,2.4 3.1,2.2 2.3,3.0" fill="none" stroke="#222" stroke-width="0.5"/>
<text transform="translate(254.01,180.85) scale(1.0,1.06)" font-size="8.4" font-weight="normal" fill="#111" stroke="#111" stroke-width="0.14" text-anchor="start" >C</text>
<path transform="translate(260.66,176.35)" d="M0.35,0 V4.4 C1.7,4.0 2.7,3.3 2.7,2.5 C2.7,1.6 1.4,1.5 0.35,2.3" fill="none" stroke="#222" stroke-width="0.7"/>
<circle cx="299.45" cy="169" r="12.8" fill="#d9e4f1"/>
<text transform="translate(293.97,163.85) scale(1.0,1.06)" font-size="8.4" font-weight="normal" fill="#111" stroke="#111" stroke-width="0.14" text-anchor="start" >D</text>
<path transform="translate(300.54,159.35)" d="M0.35,0 V4.4 C1.7,4.0 2.7,3.3 2.7,2.5 C2.7,1.6 1.4,1.5 0.35,2.3" fill="none" stroke="#222" stroke-width="0.7"/>
<text transform="translate(293.63,172.35) scale(1.0,1.06)" font-size="8.4" font-weight="normal" fill="#111" stroke="#111" stroke-width="0.14" text-anchor="start" >B</text>
<path transform="translate(299.59,167.15)" d="M0.3,0 V5.0 C1.3,4.6 2.0,3.9 2.0,3.2 C2.0,2.4 1.1,2.2 0.3,3.0 M2.3,0 V5.0 C3.3,4.6 4.0,3.9 4.0,3.2 C4.0,2.4 3.1,2.2 2.3,3.0" fill="none" stroke="#222" stroke-width="0.5"/>
<text transform="translate(293.99,180.85) scale(1.0,1.06)" font-size="8.4" font-weight="normal" fill="#111" stroke="#111" stroke-width="0.14" text-anchor="start" >G</text>
<path transform="translate(300.79,176.35)" d="M0.35,0 V4.4 C1.7,4.0 2.7,3.3 2.7,2.5 C2.7,1.6 1.4,1.5 0.35,2.3" fill="none" stroke="#222" stroke-width="0.7"/>
<circle cx="339.50" cy="169" r="12.8" fill="#d9e4f1"/>
<text transform="translate(334.40,163.85) scale(1.0,1.06)" font-size="8.4" font-weight="normal" fill="#111" stroke="#111" stroke-width="0.14" text-anchor="start" >A</text>
<path transform="translate(340.88,159.35)" d="M0.35,0 V4.4 C1.7,4.0 2.7,3.3 2.7,2.5 C2.7,1.6 1.4,1.5 0.35,2.3" fill="none" stroke="#222" stroke-width="0.7"/>
<text transform="translate(334.46,172.35) scale(1.0,1.06)" font-size="8.4" font-weight="normal" fill="#111" stroke="#111" stroke-width="0.14" text-anchor="start" >F</text>
<path transform="translate(340.15,167.85)" d="M0.35,0 V4.4 C1.7,4.0 2.7,3.3 2.7,2.5 C2.7,1.6 1.4,1.5 0.35,2.3" fill="none" stroke="#222" stroke-width="0.7"/>
<text transform="translate(334.02,180.85) scale(1.0,1.06)" font-size="8.4" font-weight="normal" fill="#111" stroke="#111" stroke-width="0.14" text-anchor="start" >D</text>
<path transform="translate(340.59,176.35)" d="M0.35,0 V4.4 C1.7,4.0 2.7,3.3 2.7,2.5 C2.7,1.6 1.4,1.5 0.35,2.3" fill="none" stroke="#222" stroke-width="0.7"/>
<circle cx="379.55" cy="169" r="12.8" fill="#d9e4f1"/>
<text transform="translate(374.28,163.85) scale(1.0,1.06)" font-size="8.4" font-weight="normal" fill="#111" stroke="#111" stroke-width="0.14" text-anchor="start" >E</text>
<path transform="translate(380.43,159.35)" d="M0.35,0 V4.4 C1.7,4.0 2.7,3.3 2.7,2.5 C2.7,1.6 1.4,1.5 0.35,2.3" fill="none" stroke="#222" stroke-width="0.7"/>
<text transform="translate(374.16,172.35) scale(1.0,1.06)" font-size="8.4" font-weight="normal" fill="#111" stroke="#111" stroke-width="0.14" text-anchor="start" >C</text>
<path transform="translate(380.81,167.85)" d="M0.35,0 V4.4 C1.7,4.0 2.7,3.3 2.7,2.5 C2.7,1.6 1.4,1.5 0.35,2.3" fill="none" stroke="#222" stroke-width="0.7"/>
<text transform="translate(374.45,180.85) scale(1.0,1.06)" font-size="8.4" font-weight="normal" fill="#111" stroke="#111" stroke-width="0.14" text-anchor="start" >A</text>
<path transform="translate(380.93,176.35)" d="M0.35,0 V4.4 C1.7,4.0 2.7,3.3 2.7,2.5 C2.7,1.6 1.4,1.5 0.35,2.3" fill="none" stroke="#222" stroke-width="0.7"/>
<circle cx="419.60" cy="169" r="12.8" fill="#d9e4f1"/>
<text transform="translate(414.38,163.85) scale(1.0,1.06)" font-size="8.4" font-weight="normal" fill="#111" stroke="#111" stroke-width="0.14" text-anchor="start" >B</text>
<path transform="translate(420.44,159.35)" d="M0.35,0 V4.4 C1.7,4.0 2.7,3.3 2.7,2.5 C2.7,1.6 1.4,1.5 0.35,2.3" fill="none" stroke="#222" stroke-width="0.7"/>
<text transform="translate(414.14,172.35) scale(1.0,1.06)" font-size="8.4" font-weight="normal" fill="#111" stroke="#111" stroke-width="0.14" text-anchor="start" >G</text>
<path transform="translate(420.94,167.85)" d="M0.35,0 V4.4 C1.7,4.0 2.7,3.3 2.7,2.5 C2.7,1.6 1.4,1.5 0.35,2.3" fill="none" stroke="#222" stroke-width="0.7"/>
<text transform="translate(414.33,180.85) scale(1.0,1.06)" font-size="8.4" font-weight="normal" fill="#111" stroke="#111" stroke-width="0.14" text-anchor="start" >E</text>
<path transform="translate(420.48,176.35)" d="M0.35,0 V4.4 C1.7,4.0 2.7,3.3 2.7,2.5 C2.7,1.6 1.4,1.5 0.35,2.3" fill="none" stroke="#222" stroke-width="0.7"/>
<circle cx="459.65" cy="169" r="12.8" fill="#d9e4f1"/>
<text transform="translate(456.91,163.85) scale(1.0,1.06)" font-size="8.4" font-weight="normal" fill="#111" stroke="#111" stroke-width="0.14" text-anchor="start" >F</text>
<text transform="translate(454.17,172.35) scale(1.0,1.06)" font-size="8.4" font-weight="normal" fill="#111" stroke="#111" stroke-width="0.14" text-anchor="start" >D</text>
<path transform="translate(460.74,167.85)" d="M0.35,0 V4.4 C1.7,4.0 2.7,3.3 2.7,2.5 C2.7,1.6 1.4,1.5 0.35,2.3" fill="none" stroke="#222" stroke-width="0.7"/>
<text transform="translate(454.43,180.85) scale(1.0,1.06)" font-size="8.4" font-weight="normal" fill="#111" stroke="#111" stroke-width="0.14" text-anchor="start" >B</text>
<path transform="translate(460.49,176.35)" d="M0.35,0 V4.4 C1.7,4.0 2.7,3.3 2.7,2.5 C2.7,1.6 1.4,1.5 0.35,2.3" fill="none" stroke="#222" stroke-width="0.7"/>
<circle cx="499.70" cy="169" r="12.8" fill="#d9e4f1"/>
<text transform="translate(496.61,163.85) scale(1.0,1.06)" font-size="8.4" font-weight="normal" fill="#111" stroke="#111" stroke-width="0.14" text-anchor="start" >C</text>
<text transform="translate(494.60,172.35) scale(1.0,1.06)" font-size="8.4" font-weight="normal" fill="#111" stroke="#111" stroke-width="0.14" text-anchor="start" >A</text>
<path transform="translate(501.08,167.85)" d="M0.35,0 V4.4 C1.7,4.0 2.7,3.3 2.7,2.5 C2.7,1.6 1.4,1.5 0.35,2.3" fill="none" stroke="#222" stroke-width="0.7"/>
<text transform="translate(496.96,180.85) scale(1.0,1.06)" font-size="8.4" font-weight="normal" fill="#111" stroke="#111" stroke-width="0.14" text-anchor="start" >F</text>
<circle cx="539.75" cy="169" r="12.8" fill="#d9e4f1"/>
<text transform="translate(536.59,163.85) scale(1.0,1.06)" font-size="8.4" font-weight="normal" fill="#111" stroke="#111" stroke-width="0.14" text-anchor="start" >G</text>
<text transform="translate(534.48,172.35) scale(1.0,1.06)" font-size="8.4" font-weight="normal" fill="#111" stroke="#111" stroke-width="0.14" text-anchor="start" >E</text>
<path transform="translate(540.63,167.85)" d="M0.35,0 V4.4 C1.7,4.0 2.7,3.3 2.7,2.5 C2.7,1.6 1.4,1.5 0.35,2.3" fill="none" stroke="#222" stroke-width="0.7"/>
<text transform="translate(536.66,180.85) scale(1.0,1.06)" font-size="8.4" font-weight="normal" fill="#111" stroke="#111" stroke-width="0.14" text-anchor="start" >C</text>
<circle cx="579.80" cy="169" r="12.8" fill="#d9e4f1"/>
<text transform="translate(576.62,163.85) scale(1.0,1.06)" font-size="8.4" font-weight="normal" fill="#111" stroke="#111" stroke-width="0.14" text-anchor="start" >D</text>
<text transform="translate(574.58,172.35) scale(1.0,1.06)" font-size="8.4" font-weight="normal" fill="#111" stroke="#111" stroke-width="0.14" text-anchor="start" >B</text>
<path transform="translate(580.64,167.85)" d="M0.35,0 V4.4 C1.7,4.0 2.7,3.3 2.7,2.5 C2.7,1.6 1.4,1.5 0.35,2.3" fill="none" stroke="#222" stroke-width="0.7"/>
<text transform="translate(576.64,180.85) scale(1.0,1.06)" font-size="8.4" font-weight="normal" fill="#111" stroke="#111" stroke-width="0.14" text-anchor="start" >G</text>
<circle cx="619.85" cy="169" r="12.8" fill="#d9e4f1"/>
<text transform="translate(617.05,163.85) scale(1.0,1.06)" font-size="8.4" font-weight="normal" fill="#111" stroke="#111" stroke-width="0.14" text-anchor="start" >A</text>
<text transform="translate(617.11,172.35) scale(1.0,1.06)" font-size="8.4" font-weight="normal" fill="#111" stroke="#111" stroke-width="0.14" text-anchor="start" >F</text>
<text transform="translate(616.67,180.85) scale(1.0,1.06)" font-size="8.4" font-weight="normal" fill="#111" stroke="#111" stroke-width="0.14" text-anchor="start" >D</text>
<circle cx="659.90" cy="169" r="12.8" fill="#d9e4f1"/>
<text transform="translate(656.93,163.85) scale(1.0,1.06)" font-size="8.4" font-weight="normal" fill="#111" stroke="#111" stroke-width="0.14" text-anchor="start" >E</text>
<text transform="translate(656.81,172.35) scale(1.0,1.06)" font-size="8.4" font-weight="normal" fill="#111" stroke="#111" stroke-width="0.14" text-anchor="start" >C</text>
<text transform="translate(657.10,180.85) scale(1.0,1.06)" font-size="8.4" font-weight="normal" fill="#111" stroke="#111" stroke-width="0.14" text-anchor="start" >A</text>
<circle cx="699.95" cy="169" r="12.8" fill="#d9e4f1"/>
<text transform="translate(697.03,163.85) scale(1.0,1.06)" font-size="8.4" font-weight="normal" fill="#111" stroke="#111" stroke-width="0.14" text-anchor="start" >B</text>
<text transform="translate(696.79,172.35) scale(1.0,1.06)" font-size="8.4" font-weight="normal" fill="#111" stroke="#111" stroke-width="0.14" text-anchor="start" >G</text>
<text transform="translate(696.98,180.85) scale(1.0,1.06)" font-size="8.4" font-weight="normal" fill="#111" stroke="#111" stroke-width="0.14" text-anchor="start" >E</text>
<circle cx="740.00" cy="169" r="12.8" fill="#d9e4f1"/>
<text transform="translate(734.91,163.85) scale(1.0,1.06)" font-size="8.4" font-weight="normal" fill="#111" stroke="#111" stroke-width="0.14" text-anchor="start" >F</text>
<g transform="translate(740.40,158.85)"><path d="M1.0,0.5 V5 M2.2,0 V4.5" fill="none" stroke="#222" stroke-width="0.45"/><path d="M0.1,2.0 L3.0,1.3 M0.1,3.8 L3.0,3.1" fill="none" stroke="#222" stroke-width="0.7"/></g>
<text transform="translate(736.82,172.35) scale(1.0,1.06)" font-size="8.4" font-weight="normal" fill="#111" stroke="#111" stroke-width="0.14" text-anchor="start" >D</text>
<text transform="translate(737.08,180.85) scale(1.0,1.06)" font-size="8.4" font-weight="normal" fill="#111" stroke="#111" stroke-width="0.14" text-anchor="start" >B</text>
<circle cx="780.05" cy="169" r="12.8" fill="#d9e4f1"/>
<text transform="translate(774.61,163.85) scale(1.0,1.06)" font-size="8.4" font-weight="normal" fill="#111" stroke="#111" stroke-width="0.14" text-anchor="start" >C</text>
<g transform="translate(781.06,158.85)"><path d="M1.0,0.5 V5 M2.2,0 V4.5" fill="none" stroke="#222" stroke-width="0.45"/><path d="M0.1,2.0 L3.0,1.3 M0.1,3.8 L3.0,3.1" fill="none" stroke="#222" stroke-width="0.7"/></g>
<text transform="translate(777.25,172.35) scale(1.0,1.06)" font-size="8.4" font-weight="normal" fill="#111" stroke="#111" stroke-width="0.14" text-anchor="start" >A</text>
<text transform="translate(774.96,180.85) scale(1.0,1.06)" font-size="8.4" font-weight="normal" fill="#111" stroke="#111" stroke-width="0.14" text-anchor="start" >F</text>
<g transform="translate(780.45,175.85)"><path d="M1.0,0.5 V5 M2.2,0 V4.5" fill="none" stroke="#222" stroke-width="0.45"/><path d="M0.1,2.0 L3.0,1.3 M0.1,3.8 L3.0,3.1" fill="none" stroke="#222" stroke-width="0.7"/></g>
<circle cx="820.10" cy="169" r="12.8" fill="#d9e4f1"/>
<text transform="translate(814.59,163.85) scale(1.0,1.06)" font-size="8.4" font-weight="normal" fill="#111" stroke="#111" stroke-width="0.14" text-anchor="start" >G</text>
<g transform="translate(821.19,158.85)"><path d="M1.0,0.5 V5 M2.2,0 V4.5" fill="none" stroke="#222" stroke-width="0.45"/><path d="M0.1,2.0 L3.0,1.3 M0.1,3.8 L3.0,3.1" fill="none" stroke="#222" stroke-width="0.7"/></g>
<text transform="translate(817.13,172.35) scale(1.0,1.06)" font-size="8.4" font-weight="normal" fill="#111" stroke="#111" stroke-width="0.14" text-anchor="start" >E</text>
<text transform="translate(814.66,180.85) scale(1.0,1.06)" font-size="8.4" font-weight="normal" fill="#111" stroke="#111" stroke-width="0.14" text-anchor="start" >C</text>
<g transform="translate(821.11,175.85)"><path d="M1.0,0.5 V5 M2.2,0 V4.5" fill="none" stroke="#222" stroke-width="0.45"/><path d="M0.1,2.0 L3.0,1.3 M0.1,3.8 L3.0,3.1" fill="none" stroke="#222" stroke-width="0.7"/></g>
<circle cx="860.15" cy="169" r="12.8" fill="#d9e4f1"/>
<text transform="translate(854.62,163.85) scale(1.0,1.06)" font-size="8.4" font-weight="normal" fill="#111" stroke="#111" stroke-width="0.14" text-anchor="start" >D</text>
<g transform="translate(860.99,158.85)"><path d="M1.0,0.5 V5 M2.2,0 V4.5" fill="none" stroke="#222" stroke-width="0.45"/><path d="M0.1,2.0 L3.0,1.3 M0.1,3.8 L3.0,3.1" fill="none" stroke="#222" stroke-width="0.7"/></g>
<text transform="translate(857.23,172.35) scale(1.0,1.06)" font-size="8.4" font-weight="normal" fill="#111" stroke="#111" stroke-width="0.14" text-anchor="start" >B</text>
<text transform="translate(854.64,180.85) scale(1.0,1.06)" font-size="8.4" font-weight="normal" fill="#111" stroke="#111" stroke-width="0.14" text-anchor="start" >G</text>
<g transform="translate(861.24,175.85)"><path d="M1.0,0.5 V5 M2.2,0 V4.5" fill="none" stroke="#222" stroke-width="0.45"/><path d="M0.1,2.0 L3.0,1.3 M0.1,3.8 L3.0,3.1" fill="none" stroke="#222" stroke-width="0.7"/></g>
<circle cx="900.20" cy="169" r="12.8" fill="#d9e4f1"/>
<text transform="translate(895.05,163.85) scale(1.0,1.06)" font-size="8.4" font-weight="normal" fill="#111" stroke="#111" stroke-width="0.14" text-anchor="start" >A</text>
<g transform="translate(901.33,158.85)"><path d="M1.0,0.5 V5 M2.2,0 V4.5" fill="none" stroke="#222" stroke-width="0.45"/><path d="M0.1,2.0 L3.0,1.3 M0.1,3.8 L3.0,3.1" fill="none" stroke="#222" stroke-width="0.7"/></g>
<text transform="translate(895.11,172.35) scale(1.0,1.06)" font-size="8.4" font-weight="normal" fill="#111" stroke="#111" stroke-width="0.14" text-anchor="start" >F</text>
<g transform="translate(900.60,167.35)"><path d="M1.0,0.5 V5 M2.2,0 V4.5" fill="none" stroke="#222" stroke-width="0.45"/><path d="M0.1,2.0 L3.0,1.3 M0.1,3.8 L3.0,3.1" fill="none" stroke="#222" stroke-width="0.7"/></g>
<text transform="translate(894.67,180.85) scale(1.0,1.06)" font-size="8.4" font-weight="normal" fill="#111" stroke="#111" stroke-width="0.14" text-anchor="start" >D</text>
<g transform="translate(901.04,175.85)"><path d="M1.0,0.5 V5 M2.2,0 V4.5" fill="none" stroke="#222" stroke-width="0.45"/><path d="M0.1,2.0 L3.0,1.3 M0.1,3.8 L3.0,3.1" fill="none" stroke="#222" stroke-width="0.7"/></g>
<circle cx="940.25" cy="169" r="12.8" fill="#d9e4f1"/>
<text transform="translate(934.93,163.85) scale(1.0,1.06)" font-size="8.4" font-weight="normal" fill="#111" stroke="#111" stroke-width="0.14" text-anchor="start" >E</text>
<g transform="translate(940.88,158.85)"><path d="M1.0,0.5 V5 M2.2,0 V4.5" fill="none" stroke="#222" stroke-width="0.45"/><path d="M0.1,2.0 L3.0,1.3 M0.1,3.8 L3.0,3.1" fill="none" stroke="#222" stroke-width="0.7"/></g>
<text transform="translate(934.81,172.35) scale(1.0,1.06)" font-size="8.4" font-weight="normal" fill="#111" stroke="#111" stroke-width="0.14" text-anchor="start" >C</text>
<g transform="translate(941.26,167.35)"><path d="M1.0,0.5 V5 M2.2,0 V4.5" fill="none" stroke="#222" stroke-width="0.45"/><path d="M0.1,2.0 L3.0,1.3 M0.1,3.8 L3.0,3.1" fill="none" stroke="#222" stroke-width="0.7"/></g>
<text transform="translate(935.10,180.85) scale(1.0,1.06)" font-size="8.4" font-weight="normal" fill="#111" stroke="#111" stroke-width="0.14" text-anchor="start" >A</text>
<g transform="translate(941.38,175.85)"><path d="M1.0,0.5 V5 M2.2,0 V4.5" fill="none" stroke="#222" stroke-width="0.45"/><path d="M0.1,2.0 L3.0,1.3 M0.1,3.8 L3.0,3.1" fill="none" stroke="#222" stroke-width="0.7"/></g>
<circle cx="188.00" cy="201" r="12.8" fill="#d9e4f1"/>
<text transform="translate(182.30,195.85) scale(1.0,1.06)" font-size="8.4" font-weight="normal" fill="#111" stroke="#111" stroke-width="0.14" text-anchor="start" >A</text>
<path transform="translate(188.68,190.65)" d="M0.3,0 V5.0 C1.3,4.6 2.0,3.9 2.0,3.2 C2.0,2.4 1.1,2.2 0.3,3.0 M2.3,0 V5.0 C3.3,4.6 4.0,3.9 4.0,3.2 C4.0,2.4 3.1,2.2 2.3,3.0" fill="none" stroke="#222" stroke-width="0.5"/>
<text transform="translate(182.52,204.35) scale(1.0,1.06)" font-size="8.4" font-weight="normal" fill="#111" stroke="#111" stroke-width="0.14" text-anchor="start" >D</text>
<path transform="translate(189.09,199.85)" d="M0.35,0 V4.4 C1.7,4.0 2.7,3.3 2.7,2.5 C2.7,1.6 1.4,1.5 0.35,2.3" fill="none" stroke="#222" stroke-width="0.7"/>
<text transform="translate(182.18,212.85) scale(1.0,1.06)" font-size="8.4" font-weight="normal" fill="#111" stroke="#111" stroke-width="0.14" text-anchor="start" >B</text>
<path transform="translate(188.14,207.65)" d="M0.3,0 V5.0 C1.3,4.6 2.0,3.9 2.0,3.2 C2.0,2.4 1.1,2.2 0.3,3.0 M2.3,0 V5.0 C3.3,4.6 4.0,3.9 4.0,3.2 C4.0,2.4 3.1,2.2 2.3,3.0" fill="none" stroke="#222" stroke-width="0.5"/>
<circle cx="228.05" cy="201" r="12.8" fill="#d9e4f1"/>
<text transform="translate(222.18,195.85) scale(1.0,1.06)" font-size="8.4" font-weight="normal" fill="#111" stroke="#111" stroke-width="0.14" text-anchor="start" >E</text>
<path transform="translate(228.23,190.65)" d="M0.3,0 V5.0 C1.3,4.6 2.0,3.9 2.0,3.2 C2.0,2.4 1.1,2.2 0.3,3.0 M2.3,0 V5.0 C3.3,4.6 4.0,3.9 4.0,3.2 C4.0,2.4 3.1,2.2 2.3,3.0" fill="none" stroke="#222" stroke-width="0.5"/>
<text transform="translate(222.95,204.35) scale(1.0,1.06)" font-size="8.4" font-weight="normal" fill="#111" stroke="#111" stroke-width="0.14" text-anchor="start" >A</text>
<path transform="translate(229.43,199.85)" d="M0.35,0 V4.4 C1.7,4.0 2.7,3.3 2.7,2.5 C2.7,1.6 1.4,1.5 0.35,2.3" fill="none" stroke="#222" stroke-width="0.7"/>
<text transform="translate(223.01,212.85) scale(1.0,1.06)" font-size="8.4" font-weight="normal" fill="#111" stroke="#111" stroke-width="0.14" text-anchor="start" >F</text>
<path transform="translate(228.70,208.35)" d="M0.35,0 V4.4 C1.7,4.0 2.7,3.3 2.7,2.5 C2.7,1.6 1.4,1.5 0.35,2.3" fill="none" stroke="#222" stroke-width="0.7"/>
<circle cx="268.10" cy="201" r="12.8" fill="#d9e4f1"/>
<text transform="translate(262.28,195.85) scale(1.0,1.06)" font-size="8.4" font-weight="normal" fill="#111" stroke="#111" stroke-width="0.14" text-anchor="start" >B</text>
<path transform="translate(268.24,190.65)" d="M0.3,0 V5.0 C1.3,4.6 2.0,3.9 2.0,3.2 C2.0,2.4 1.1,2.2 0.3,3.0 M2.3,0 V5.0 C3.3,4.6 4.0,3.9 4.0,3.2 C4.0,2.4 3.1,2.2 2.3,3.0" fill="none" stroke="#222" stroke-width="0.5"/>
<text transform="translate(262.83,204.35) scale(1.0,1.06)" font-size="8.4" font-weight="normal" fill="#111" stroke="#111" stroke-width="0.14" text-anchor="start" >E</text>
<path transform="translate(268.98,199.85)" d="M0.35,0 V4.4 C1.7,4.0 2.7,3.3 2.7,2.5 C2.7,1.6 1.4,1.5 0.35,2.3" fill="none" stroke="#222" stroke-width="0.7"/>
<text transform="translate(262.71,212.85) scale(1.0,1.06)" font-size="8.4" font-weight="normal" fill="#111" stroke="#111" stroke-width="0.14" text-anchor="start" >C</text>
<path transform="translate(269.36,208.35)" d="M0.35,0 V4.4 C1.7,4.0 2.7,3.3 2.7,2.5 C2.7,1.6 1.4,1.5 0.35,2.3" fill="none" stroke="#222" stroke-width="0.7"/>
<circle cx="308.15" cy="201" r="12.8" fill="#d9e4f1"/>
<text transform="translate(303.11,195.85) scale(1.0,1.06)" font-size="8.4" font-weight="normal" fill="#111" stroke="#111" stroke-width="0.14" text-anchor="start" >F</text>
<path transform="translate(308.80,191.35)" d="M0.35,0 V4.4 C1.7,4.0 2.7,3.3 2.7,2.5 C2.7,1.6 1.4,1.5 0.35,2.3" fill="none" stroke="#222" stroke-width="0.7"/>
<text transform="translate(302.93,204.35) scale(1.0,1.06)" font-size="8.4" font-weight="normal" fill="#111" stroke="#111" stroke-width="0.14" text-anchor="start" >B</text>
<path transform="translate(308.99,199.85)" d="M0.35,0 V4.4 C1.7,4.0 2.7,3.3 2.7,2.5 C2.7,1.6 1.4,1.5 0.35,2.3" fill="none" stroke="#222" stroke-width="0.7"/>
<text transform="translate(302.69,212.85) scale(1.0,1.06)" font-size="8.4" font-weight="normal" fill="#111" stroke="#111" stroke-width="0.14" text-anchor="start" >G</text>
<path transform="translate(309.49,208.35)" d="M0.35,0 V4.4 C1.7,4.0 2.7,3.3 2.7,2.5 C2.7,1.6 1.4,1.5 0.35,2.3" fill="none" stroke="#222" stroke-width="0.7"/>
<circle cx="348.20" cy="201" r="12.8" fill="#d9e4f1"/>
<text transform="translate(342.81,195.85) scale(1.0,1.06)" font-size="8.4" font-weight="normal" fill="#111" stroke="#111" stroke-width="0.14" text-anchor="start" >C</text>
<path transform="translate(349.46,191.35)" d="M0.35,0 V4.4 C1.7,4.0 2.7,3.3 2.7,2.5 C2.7,1.6 1.4,1.5 0.35,2.3" fill="none" stroke="#222" stroke-width="0.7"/>
<text transform="translate(345.46,204.35) scale(1.0,1.06)" font-size="8.4" font-weight="normal" fill="#111" stroke="#111" stroke-width="0.14" text-anchor="start" >F</text>
<text transform="translate(342.72,212.85) scale(1.0,1.06)" font-size="8.4" font-weight="normal" fill="#111" stroke="#111" stroke-width="0.14" text-anchor="start" >D</text>
<path transform="translate(349.29,208.35)" d="M0.35,0 V4.4 C1.7,4.0 2.7,3.3 2.7,2.5 C2.7,1.6 1.4,1.5 0.35,2.3" fill="none" stroke="#222" stroke-width="0.7"/>
<circle cx="388.25" cy="201" r="12.8" fill="#d9e4f1"/>
<text transform="translate(382.79,195.85) scale(1.0,1.06)" font-size="8.4" font-weight="normal" fill="#111" stroke="#111" stroke-width="0.14" text-anchor="start" >G</text>
<path transform="translate(389.59,191.35)" d="M0.35,0 V4.4 C1.7,4.0 2.7,3.3 2.7,2.5 C2.7,1.6 1.4,1.5 0.35,2.3" fill="none" stroke="#222" stroke-width="0.7"/>
<text transform="translate(385.16,204.35) scale(1.0,1.06)" font-size="8.4" font-weight="normal" fill="#111" stroke="#111" stroke-width="0.14" text-anchor="start" >C</text>
<text transform="translate(383.15,212.85) scale(1.0,1.06)" font-size="8.4" font-weight="normal" fill="#111" stroke="#111" stroke-width="0.14" text-anchor="start" >A</text>
<path transform="translate(389.63,208.35)" d="M0.35,0 V4.4 C1.7,4.0 2.7,3.3 2.7,2.5 C2.7,1.6 1.4,1.5 0.35,2.3" fill="none" stroke="#222" stroke-width="0.7"/>
<circle cx="428.30" cy="201" r="12.8" fill="#d9e4f1"/>
<text transform="translate(422.82,195.85) scale(1.0,1.06)" font-size="8.4" font-weight="normal" fill="#111" stroke="#111" stroke-width="0.14" text-anchor="start" >D</text>
<path transform="translate(429.39,191.35)" d="M0.35,0 V4.4 C1.7,4.0 2.7,3.3 2.7,2.5 C2.7,1.6 1.4,1.5 0.35,2.3" fill="none" stroke="#222" stroke-width="0.7"/>
<text transform="translate(425.14,204.35) scale(1.0,1.06)" font-size="8.4" font-weight="normal" fill="#111" stroke="#111" stroke-width="0.14" text-anchor="start" >G</text>
<text transform="translate(423.03,212.85) scale(1.0,1.06)" font-size="8.4" font-weight="normal" fill="#111" stroke="#111" stroke-width="0.14" text-anchor="start" >E</text>
<path transform="translate(429.18,208.35)" d="M0.35,0 V4.4 C1.7,4.0 2.7,3.3 2.7,2.5 C2.7,1.6 1.4,1.5 0.35,2.3" fill="none" stroke="#222" stroke-width="0.7"/>
<circle cx="468.35" cy="201" r="12.8" fill="#d9e4f1"/>
<text transform="translate(463.25,195.85) scale(1.0,1.06)" font-size="8.4" font-weight="normal" fill="#111" stroke="#111" stroke-width="0.14" text-anchor="start" >A</text>
<path transform="translate(469.73,191.35)" d="M0.35,0 V4.4 C1.7,4.0 2.7,3.3 2.7,2.5 C2.7,1.6 1.4,1.5 0.35,2.3" fill="none" stroke="#222" stroke-width="0.7"/>
<text transform="translate(465.17,204.35) scale(1.0,1.06)" font-size="8.4" font-weight="normal" fill="#111" stroke="#111" stroke-width="0.14" text-anchor="start" >D</text>
<text transform="translate(463.13,212.85) scale(1.0,1.06)" font-size="8.4" font-weight="normal" fill="#111" stroke="#111" stroke-width="0.14" text-anchor="start" >B</text>
<path transform="translate(469.19,208.35)" d="M0.35,0 V4.4 C1.7,4.0 2.7,3.3 2.7,2.5 C2.7,1.6 1.4,1.5 0.35,2.3" fill="none" stroke="#222" stroke-width="0.7"/>
<circle cx="508.40" cy="201" r="12.8" fill="#d9e4f1"/>
<text transform="translate(503.13,195.85) scale(1.0,1.06)" font-size="8.4" font-weight="normal" fill="#111" stroke="#111" stroke-width="0.14" text-anchor="start" >E</text>
<path transform="translate(509.28,191.35)" d="M0.35,0 V4.4 C1.7,4.0 2.7,3.3 2.7,2.5 C2.7,1.6 1.4,1.5 0.35,2.3" fill="none" stroke="#222" stroke-width="0.7"/>
<text transform="translate(505.60,204.35) scale(1.0,1.06)" font-size="8.4" font-weight="normal" fill="#111" stroke="#111" stroke-width="0.14" text-anchor="start" >A</text>
<text transform="translate(505.66,212.85) scale(1.0,1.06)" font-size="8.4" font-weight="normal" fill="#111" stroke="#111" stroke-width="0.14" text-anchor="start" >F</text>
<circle cx="548.45" cy="201" r="12.8" fill="#d9e4f1"/>
<text transform="translate(543.23,195.85) scale(1.0,1.06)" font-size="8.4" font-weight="normal" fill="#111" stroke="#111" stroke-width="0.14" text-anchor="start" >B</text>
<path transform="translate(549.29,191.35)" d="M0.35,0 V4.4 C1.7,4.0 2.7,3.3 2.7,2.5 C2.7,1.6 1.4,1.5 0.35,2.3" fill="none" stroke="#222" stroke-width="0.7"/>
<text transform="translate(545.48,204.35) scale(1.0,1.06)" font-size="8.4" font-weight="normal" fill="#111" stroke="#111" stroke-width="0.14" text-anchor="start" >E</text>
<text transform="translate(545.36,212.85) scale(1.0,1.06)" font-size="8.4" font-weight="normal" fill="#111" stroke="#111" stroke-width="0.14" text-anchor="start" >C</text>
<circle cx="588.50" cy="201" r="12.8" fill="#d9e4f1"/>
<text transform="translate(585.76,195.85) scale(1.0,1.06)" font-size="8.4" font-weight="normal" fill="#111" stroke="#111" stroke-width="0.14" text-anchor="start" >F</text>
<text transform="translate(585.58,204.35) scale(1.0,1.06)" font-size="8.4" font-weight="normal" fill="#111" stroke="#111" stroke-width="0.14" text-anchor="start" >B</text>
<text transform="translate(585.34,212.85) scale(1.0,1.06)" font-size="8.4" font-weight="normal" fill="#111" stroke="#111" stroke-width="0.14" text-anchor="start" >G</text>
<circle cx="628.55" cy="201" r="12.8" fill="#d9e4f1"/>
<text transform="translate(625.46,195.85) scale(1.0,1.06)" font-size="8.4" font-weight="normal" fill="#111" stroke="#111" stroke-width="0.14" text-anchor="start" >C</text>
<text transform="translate(623.46,204.35) scale(1.0,1.06)" font-size="8.4" font-weight="normal" fill="#111" stroke="#111" stroke-width="0.14" text-anchor="start" >F</text>
<g transform="translate(628.95,199.35)"><path d="M1.0,0.5 V5 M2.2,0 V4.5" fill="none" stroke="#222" stroke-width="0.45"/><path d="M0.1,2.0 L3.0,1.3 M0.1,3.8 L3.0,3.1" fill="none" stroke="#222" stroke-width="0.7"/></g>
<text transform="translate(625.37,212.85) scale(1.0,1.06)" font-size="8.4" font-weight="normal" fill="#111" stroke="#111" stroke-width="0.14" text-anchor="start" >D</text>
<circle cx="668.60" cy="201" r="12.8" fill="#d9e4f1"/>
<text transform="translate(665.44,195.85) scale(1.0,1.06)" font-size="8.4" font-weight="normal" fill="#111" stroke="#111" stroke-width="0.14" text-anchor="start" >G</text>
<text transform="translate(663.16,204.35) scale(1.0,1.06)" font-size="8.4" font-weight="normal" fill="#111" stroke="#111" stroke-width="0.14" text-anchor="start" >C</text>
<g transform="translate(669.61,199.35)"><path d="M1.0,0.5 V5 M2.2,0 V4.5" fill="none" stroke="#222" stroke-width="0.45"/><path d="M0.1,2.0 L3.0,1.3 M0.1,3.8 L3.0,3.1" fill="none" stroke="#222" stroke-width="0.7"/></g>
<text transform="translate(665.80,212.85) scale(1.0,1.06)" font-size="8.4" font-weight="normal" fill="#111" stroke="#111" stroke-width="0.14" text-anchor="start" >A</text>
<circle cx="708.65" cy="201" r="12.8" fill="#d9e4f1"/>
<text transform="translate(705.47,195.85) scale(1.0,1.06)" font-size="8.4" font-weight="normal" fill="#111" stroke="#111" stroke-width="0.14" text-anchor="start" >D</text>
<text transform="translate(703.14,204.35) scale(1.0,1.06)" font-size="8.4" font-weight="normal" fill="#111" stroke="#111" stroke-width="0.14" text-anchor="start" >G</text>
<g transform="translate(709.74,199.35)"><path d="M1.0,0.5 V5 M2.2,0 V4.5" fill="none" stroke="#222" stroke-width="0.45"/><path d="M0.1,2.0 L3.0,1.3 M0.1,3.8 L3.0,3.1" fill="none" stroke="#222" stroke-width="0.7"/></g>
<text transform="translate(705.68,212.85) scale(1.0,1.06)" font-size="8.4" font-weight="normal" fill="#111" stroke="#111" stroke-width="0.14" text-anchor="start" >E</text>
<circle cx="748.70" cy="201" r="12.8" fill="#d9e4f1"/>
<text transform="translate(745.90,195.85) scale(1.0,1.06)" font-size="8.4" font-weight="normal" fill="#111" stroke="#111" stroke-width="0.14" text-anchor="start" >A</text>
<text transform="translate(743.17,204.35) scale(1.0,1.06)" font-size="8.4" font-weight="normal" fill="#111" stroke="#111" stroke-width="0.14" text-anchor="start" >D</text>
<g transform="translate(749.54,199.35)"><path d="M1.0,0.5 V5 M2.2,0 V4.5" fill="none" stroke="#222" stroke-width="0.45"/><path d="M0.1,2.0 L3.0,1.3 M0.1,3.8 L3.0,3.1" fill="none" stroke="#222" stroke-width="0.7"/></g>
<text transform="translate(745.78,212.85) scale(1.0,1.06)" font-size="8.4" font-weight="normal" fill="#111" stroke="#111" stroke-width="0.14" text-anchor="start" >B</text>
<circle cx="788.75" cy="201" r="12.8" fill="#d9e4f1"/>
<text transform="translate(785.78,195.85) scale(1.0,1.06)" font-size="8.4" font-weight="normal" fill="#111" stroke="#111" stroke-width="0.14" text-anchor="start" >E</text>
<text transform="translate(783.60,204.35) scale(1.0,1.06)" font-size="8.4" font-weight="normal" fill="#111" stroke="#111" stroke-width="0.14" text-anchor="start" >A</text>
<g transform="translate(789.88,199.35)"><path d="M1.0,0.5 V5 M2.2,0 V4.5" fill="none" stroke="#222" stroke-width="0.45"/><path d="M0.1,2.0 L3.0,1.3 M0.1,3.8 L3.0,3.1" fill="none" stroke="#222" stroke-width="0.7"/></g>
<text transform="translate(783.66,212.85) scale(1.0,1.06)" font-size="8.4" font-weight="normal" fill="#111" stroke="#111" stroke-width="0.14" text-anchor="start" >F</text>
<g transform="translate(789.15,207.85)"><path d="M1.0,0.5 V5 M2.2,0 V4.5" fill="none" stroke="#222" stroke-width="0.45"/><path d="M0.1,2.0 L3.0,1.3 M0.1,3.8 L3.0,3.1" fill="none" stroke="#222" stroke-width="0.7"/></g>
<circle cx="828.80" cy="201" r="12.8" fill="#d9e4f1"/>
<text transform="translate(825.88,195.85) scale(1.0,1.06)" font-size="8.4" font-weight="normal" fill="#111" stroke="#111" stroke-width="0.14" text-anchor="start" >B</text>
<text transform="translate(823.48,204.35) scale(1.0,1.06)" font-size="8.4" font-weight="normal" fill="#111" stroke="#111" stroke-width="0.14" text-anchor="start" >E</text>
<g transform="translate(829.43,199.35)"><path d="M1.0,0.5 V5 M2.2,0 V4.5" fill="none" stroke="#222" stroke-width="0.45"/><path d="M0.1,2.0 L3.0,1.3 M0.1,3.8 L3.0,3.1" fill="none" stroke="#222" stroke-width="0.7"/></g>
<text transform="translate(823.36,212.85) scale(1.0,1.06)" font-size="8.4" font-weight="normal" fill="#111" stroke="#111" stroke-width="0.14" text-anchor="start" >C</text>
<g transform="translate(829.81,207.85)"><path d="M1.0,0.5 V5 M2.2,0 V4.5" fill="none" stroke="#222" stroke-width="0.45"/><path d="M0.1,2.0 L3.0,1.3 M0.1,3.8 L3.0,3.1" fill="none" stroke="#222" stroke-width="0.7"/></g>
<circle cx="868.85" cy="201" r="12.8" fill="#d9e4f1"/>
<text transform="translate(863.76,195.85) scale(1.0,1.06)" font-size="8.4" font-weight="normal" fill="#111" stroke="#111" stroke-width="0.14" text-anchor="start" >F</text>
<g transform="translate(869.25,190.85)"><path d="M1.0,0.5 V5 M2.2,0 V4.5" fill="none" stroke="#222" stroke-width="0.45"/><path d="M0.1,2.0 L3.0,1.3 M0.1,3.8 L3.0,3.1" fill="none" stroke="#222" stroke-width="0.7"/></g>
<text transform="translate(863.58,204.35) scale(1.0,1.06)" font-size="8.4" font-weight="normal" fill="#111" stroke="#111" stroke-width="0.14" text-anchor="start" >B</text>
<g transform="translate(869.44,199.35)"><path d="M1.0,0.5 V5 M2.2,0 V4.5" fill="none" stroke="#222" stroke-width="0.45"/><path d="M0.1,2.0 L3.0,1.3 M0.1,3.8 L3.0,3.1" fill="none" stroke="#222" stroke-width="0.7"/></g>
<text transform="translate(863.34,212.85) scale(1.0,1.06)" font-size="8.4" font-weight="normal" fill="#111" stroke="#111" stroke-width="0.14" text-anchor="start" >G</text>
<g transform="translate(869.94,207.85)"><path d="M1.0,0.5 V5 M2.2,0 V4.5" fill="none" stroke="#222" stroke-width="0.45"/><path d="M0.1,2.0 L3.0,1.3 M0.1,3.8 L3.0,3.1" fill="none" stroke="#222" stroke-width="0.7"/></g>
<circle cx="908.90" cy="201" r="12.8" fill="#d9e4f1"/>
<text transform="translate(903.46,195.85) scale(1.0,1.06)" font-size="8.4" font-weight="normal" fill="#111" stroke="#111" stroke-width="0.14" text-anchor="start" >C</text>
<g transform="translate(909.91,190.85)"><path d="M1.0,0.5 V5 M2.2,0 V4.5" fill="none" stroke="#222" stroke-width="0.45"/><path d="M0.1,2.0 L3.0,1.3 M0.1,3.8 L3.0,3.1" fill="none" stroke="#222" stroke-width="0.7"/></g>
<text transform="translate(904.06,204.35) scale(1.0,1.06)" font-size="8.4" font-weight="normal" fill="#111" stroke="#111" stroke-width="0.14" text-anchor="start" >F</text>
<rect transform="translate(909.65,200.95)" x="0" y="0" width="2.4" height="2.4" fill="#222"/>
<text transform="translate(903.37,212.85) scale(1.0,1.06)" font-size="8.4" font-weight="normal" fill="#111" stroke="#111" stroke-width="0.14" text-anchor="start" >D</text>
<g transform="translate(909.74,207.85)"><path d="M1.0,0.5 V5 M2.2,0 V4.5" fill="none" stroke="#222" stroke-width="0.45"/><path d="M0.1,2.0 L3.0,1.3 M0.1,3.8 L3.0,3.1" fill="none" stroke="#222" stroke-width="0.7"/></g>
<circle cx="948.95" cy="201" r="12.8" fill="#d9e4f1"/>
<text transform="translate(943.44,195.85) scale(1.0,1.06)" font-size="8.4" font-weight="normal" fill="#111" stroke="#111" stroke-width="0.14" text-anchor="start" >G</text>
<g transform="translate(950.04,190.85)"><path d="M1.0,0.5 V5 M2.2,0 V4.5" fill="none" stroke="#222" stroke-width="0.45"/><path d="M0.1,2.0 L3.0,1.3 M0.1,3.8 L3.0,3.1" fill="none" stroke="#222" stroke-width="0.7"/></g>
<text transform="translate(943.76,204.35) scale(1.0,1.06)" font-size="8.4" font-weight="normal" fill="#111" stroke="#111" stroke-width="0.14" text-anchor="start" >C</text>
<rect transform="translate(950.31,200.95)" x="0" y="0" width="2.4" height="2.4" fill="#222"/>
<text transform="translate(943.80,212.85) scale(1.0,1.06)" font-size="8.4" font-weight="normal" fill="#111" stroke="#111" stroke-width="0.14" text-anchor="start" >A</text>
<g transform="translate(950.08,207.85)"><path d="M1.0,0.5 V5 M2.2,0 V4.5" fill="none" stroke="#222" stroke-width="0.45"/><path d="M0.1,2.0 L3.0,1.3 M0.1,3.8 L3.0,3.1" fill="none" stroke="#222" stroke-width="0.7"/></g>
<circle cx="197.00" cy="233" r="12.8" fill="#d9e4f1"/>
<text transform="translate(190.92,227.85) scale(1.0,1.06)" font-size="8.4" font-weight="normal" fill="#111" stroke="#111" stroke-width="0.14" text-anchor="start" >D</text>
<path transform="translate(197.39,222.65)" d="M0.3,0 V5.0 C1.3,4.6 2.0,3.9 2.0,3.2 C2.0,2.4 1.1,2.2 0.3,3.0 M2.3,0 V5.0 C3.3,4.6 4.0,3.9 4.0,3.2 C4.0,2.4 3.1,2.2 2.3,3.0" fill="none" stroke="#222" stroke-width="0.5"/>
<text transform="translate(191.18,236.35) scale(1.0,1.06)" font-size="8.4" font-weight="normal" fill="#111" stroke="#111" stroke-width="0.14" text-anchor="start" >B</text>
<path transform="translate(197.14,231.15)" d="M0.3,0 V5.0 C1.3,4.6 2.0,3.9 2.0,3.2 C2.0,2.4 1.1,2.2 0.3,3.0 M2.3,0 V5.0 C3.3,4.6 4.0,3.9 4.0,3.2 C4.0,2.4 3.1,2.2 2.3,3.0" fill="none" stroke="#222" stroke-width="0.5"/>
<text transform="translate(191.54,244.85) scale(1.0,1.06)" font-size="8.4" font-weight="normal" fill="#111" stroke="#111" stroke-width="0.14" text-anchor="start" >G</text>
<path transform="translate(198.34,240.35)" d="M0.35,0 V4.4 C1.7,4.0 2.7,3.3 2.7,2.5 C2.7,1.6 1.4,1.5 0.35,2.3" fill="none" stroke="#222" stroke-width="0.7"/>
<circle cx="237.05" cy="233" r="12.8" fill="#d9e4f1"/>
<text transform="translate(231.35,227.85) scale(1.0,1.06)" font-size="8.4" font-weight="normal" fill="#111" stroke="#111" stroke-width="0.14" text-anchor="start" >A</text>
<path transform="translate(237.73,222.65)" d="M0.3,0 V5.0 C1.3,4.6 2.0,3.9 2.0,3.2 C2.0,2.4 1.1,2.2 0.3,3.0 M2.3,0 V5.0 C3.3,4.6 4.0,3.9 4.0,3.2 C4.0,2.4 3.1,2.2 2.3,3.0" fill="none" stroke="#222" stroke-width="0.5"/>
<text transform="translate(232.01,236.35) scale(1.0,1.06)" font-size="8.4" font-weight="normal" fill="#111" stroke="#111" stroke-width="0.14" text-anchor="start" >F</text>
<path transform="translate(237.70,231.85)" d="M0.35,0 V4.4 C1.7,4.0 2.7,3.3 2.7,2.5 C2.7,1.6 1.4,1.5 0.35,2.3" fill="none" stroke="#222" stroke-width="0.7"/>
<text transform="translate(231.57,244.85) scale(1.0,1.06)" font-size="8.4" font-weight="normal" fill="#111" stroke="#111" stroke-width="0.14" text-anchor="start" >D</text>
<path transform="translate(238.14,240.35)" d="M0.35,0 V4.4 C1.7,4.0 2.7,3.3 2.7,2.5 C2.7,1.6 1.4,1.5 0.35,2.3" fill="none" stroke="#222" stroke-width="0.7"/>
<circle cx="277.10" cy="233" r="12.8" fill="#d9e4f1"/>
<text transform="translate(271.23,227.85) scale(1.0,1.06)" font-size="8.4" font-weight="normal" fill="#111" stroke="#111" stroke-width="0.14" text-anchor="start" >E</text>
<path transform="translate(277.28,222.65)" d="M0.3,0 V5.0 C1.3,4.6 2.0,3.9 2.0,3.2 C2.0,2.4 1.1,2.2 0.3,3.0 M2.3,0 V5.0 C3.3,4.6 4.0,3.9 4.0,3.2 C4.0,2.4 3.1,2.2 2.3,3.0" fill="none" stroke="#222" stroke-width="0.5"/>
<text transform="translate(271.71,236.35) scale(1.0,1.06)" font-size="8.4" font-weight="normal" fill="#111" stroke="#111" stroke-width="0.14" text-anchor="start" >C</text>
<path transform="translate(278.36,231.85)" d="M0.35,0 V4.4 C1.7,4.0 2.7,3.3 2.7,2.5 C2.7,1.6 1.4,1.5 0.35,2.3" fill="none" stroke="#222" stroke-width="0.7"/>
<text transform="translate(272.00,244.85) scale(1.0,1.06)" font-size="8.4" font-weight="normal" fill="#111" stroke="#111" stroke-width="0.14" text-anchor="start" >A</text>
<path transform="translate(278.48,240.35)" d="M0.35,0 V4.4 C1.7,4.0 2.7,3.3 2.7,2.5 C2.7,1.6 1.4,1.5 0.35,2.3" fill="none" stroke="#222" stroke-width="0.7"/>
<circle cx="317.15" cy="233" r="12.8" fill="#d9e4f1"/>
<text transform="translate(311.33,227.85) scale(1.0,1.06)" font-size="8.4" font-weight="normal" fill="#111" stroke="#111" stroke-width="0.14" text-anchor="start" >B</text>
<path transform="translate(317.29,222.65)" d="M0.3,0 V5.0 C1.3,4.6 2.0,3.9 2.0,3.2 C2.0,2.4 1.1,2.2 0.3,3.0 M2.3,0 V5.0 C3.3,4.6 4.0,3.9 4.0,3.2 C4.0,2.4 3.1,2.2 2.3,3.0" fill="none" stroke="#222" stroke-width="0.5"/>
<text transform="translate(311.69,236.35) scale(1.0,1.06)" font-size="8.4" font-weight="normal" fill="#111" stroke="#111" stroke-width="0.14" text-anchor="start" >G</text>
<path transform="translate(318.49,231.85)" d="M0.35,0 V4.4 C1.7,4.0 2.7,3.3 2.7,2.5 C2.7,1.6 1.4,1.5 0.35,2.3" fill="none" stroke="#222" stroke-width="0.7"/>
<text transform="translate(311.88,244.85) scale(1.0,1.06)" font-size="8.4" font-weight="normal" fill="#111" stroke="#111" stroke-width="0.14" text-anchor="start" >E</text>
<path transform="translate(318.03,240.35)" d="M0.35,0 V4.4 C1.7,4.0 2.7,3.3 2.7,2.5 C2.7,1.6 1.4,1.5 0.35,2.3" fill="none" stroke="#222" stroke-width="0.7"/>
<circle cx="357.20" cy="233" r="12.8" fill="#d9e4f1"/>
<text transform="translate(352.16,227.85) scale(1.0,1.06)" font-size="8.4" font-weight="normal" fill="#111" stroke="#111" stroke-width="0.14" text-anchor="start" >F</text>
<path transform="translate(357.85,223.35)" d="M0.35,0 V4.4 C1.7,4.0 2.7,3.3 2.7,2.5 C2.7,1.6 1.4,1.5 0.35,2.3" fill="none" stroke="#222" stroke-width="0.7"/>
<text transform="translate(351.72,236.35) scale(1.0,1.06)" font-size="8.4" font-weight="normal" fill="#111" stroke="#111" stroke-width="0.14" text-anchor="start" >D</text>
<path transform="translate(358.29,231.85)" d="M0.35,0 V4.4 C1.7,4.0 2.7,3.3 2.7,2.5 C2.7,1.6 1.4,1.5 0.35,2.3" fill="none" stroke="#222" stroke-width="0.7"/>
<text transform="translate(351.98,244.85) scale(1.0,1.06)" font-size="8.4" font-weight="normal" fill="#111" stroke="#111" stroke-width="0.14" text-anchor="start" >B</text>
<path transform="translate(358.04,240.35)" d="M0.35,0 V4.4 C1.7,4.0 2.7,3.3 2.7,2.5 C2.7,1.6 1.4,1.5 0.35,2.3" fill="none" stroke="#222" stroke-width="0.7"/>
<circle cx="397.25" cy="233" r="12.8" fill="#d9e4f1"/>
<text transform="translate(391.86,227.85) scale(1.0,1.06)" font-size="8.4" font-weight="normal" fill="#111" stroke="#111" stroke-width="0.14" text-anchor="start" >C</text>
<path transform="translate(398.51,223.35)" d="M0.35,0 V4.4 C1.7,4.0 2.7,3.3 2.7,2.5 C2.7,1.6 1.4,1.5 0.35,2.3" fill="none" stroke="#222" stroke-width="0.7"/>
<text transform="translate(392.15,236.35) scale(1.0,1.06)" font-size="8.4" font-weight="normal" fill="#111" stroke="#111" stroke-width="0.14" text-anchor="start" >A</text>
<path transform="translate(398.63,231.85)" d="M0.35,0 V4.4 C1.7,4.0 2.7,3.3 2.7,2.5 C2.7,1.6 1.4,1.5 0.35,2.3" fill="none" stroke="#222" stroke-width="0.7"/>
<text transform="translate(394.51,244.85) scale(1.0,1.06)" font-size="8.4" font-weight="normal" fill="#111" stroke="#111" stroke-width="0.14" text-anchor="start" >F</text>
<circle cx="437.30" cy="233" r="12.8" fill="#d9e4f1"/>
<text transform="translate(431.84,227.85) scale(1.0,1.06)" font-size="8.4" font-weight="normal" fill="#111" stroke="#111" stroke-width="0.14" text-anchor="start" >G</text>
<path transform="translate(438.64,223.35)" d="M0.35,0 V4.4 C1.7,4.0 2.7,3.3 2.7,2.5 C2.7,1.6 1.4,1.5 0.35,2.3" fill="none" stroke="#222" stroke-width="0.7"/>
<text transform="translate(432.03,236.35) scale(1.0,1.06)" font-size="8.4" font-weight="normal" fill="#111" stroke="#111" stroke-width="0.14" text-anchor="start" >E</text>
<path transform="translate(438.18,231.85)" d="M0.35,0 V4.4 C1.7,4.0 2.7,3.3 2.7,2.5 C2.7,1.6 1.4,1.5 0.35,2.3" fill="none" stroke="#222" stroke-width="0.7"/>
<text transform="translate(434.21,244.85) scale(1.0,1.06)" font-size="8.4" font-weight="normal" fill="#111" stroke="#111" stroke-width="0.14" text-anchor="start" >C</text>
<circle cx="477.35" cy="233" r="12.8" fill="#d9e4f1"/>
<text transform="translate(471.87,227.85) scale(1.0,1.06)" font-size="8.4" font-weight="normal" fill="#111" stroke="#111" stroke-width="0.14" text-anchor="start" >D</text>
<path transform="translate(478.44,223.35)" d="M0.35,0 V4.4 C1.7,4.0 2.7,3.3 2.7,2.5 C2.7,1.6 1.4,1.5 0.35,2.3" fill="none" stroke="#222" stroke-width="0.7"/>
<text transform="translate(472.13,236.35) scale(1.0,1.06)" font-size="8.4" font-weight="normal" fill="#111" stroke="#111" stroke-width="0.14" text-anchor="start" >B</text>
<path transform="translate(478.19,231.85)" d="M0.35,0 V4.4 C1.7,4.0 2.7,3.3 2.7,2.5 C2.7,1.6 1.4,1.5 0.35,2.3" fill="none" stroke="#222" stroke-width="0.7"/>
<text transform="translate(474.19,244.85) scale(1.0,1.06)" font-size="8.4" font-weight="normal" fill="#111" stroke="#111" stroke-width="0.14" text-anchor="start" >G</text>
<circle cx="517.40" cy="233" r="12.8" fill="#d9e4f1"/>
<text transform="translate(512.30,227.85) scale(1.0,1.06)" font-size="8.4" font-weight="normal" fill="#111" stroke="#111" stroke-width="0.14" text-anchor="start" >A</text>
<path transform="translate(518.78,223.35)" d="M0.35,0 V4.4 C1.7,4.0 2.7,3.3 2.7,2.5 C2.7,1.6 1.4,1.5 0.35,2.3" fill="none" stroke="#222" stroke-width="0.7"/>
<text transform="translate(514.66,236.35) scale(1.0,1.06)" font-size="8.4" font-weight="normal" fill="#111" stroke="#111" stroke-width="0.14" text-anchor="start" >F</text>
<text transform="translate(514.22,244.85) scale(1.0,1.06)" font-size="8.4" font-weight="normal" fill="#111" stroke="#111" stroke-width="0.14" text-anchor="start" >D</text>
<circle cx="557.45" cy="233" r="12.8" fill="#d9e4f1"/>
<text transform="translate(552.18,227.85) scale(1.0,1.06)" font-size="8.4" font-weight="normal" fill="#111" stroke="#111" stroke-width="0.14" text-anchor="start" >E</text>
<path transform="translate(558.33,223.35)" d="M0.35,0 V4.4 C1.7,4.0 2.7,3.3 2.7,2.5 C2.7,1.6 1.4,1.5 0.35,2.3" fill="none" stroke="#222" stroke-width="0.7"/>
<text transform="translate(554.36,236.35) scale(1.0,1.06)" font-size="8.4" font-weight="normal" fill="#111" stroke="#111" stroke-width="0.14" text-anchor="start" >C</text>
<text transform="translate(554.65,244.85) scale(1.0,1.06)" font-size="8.4" font-weight="normal" fill="#111" stroke="#111" stroke-width="0.14" text-anchor="start" >A</text>
<circle cx="597.50" cy="233" r="12.8" fill="#d9e4f1"/>
<text transform="translate(592.28,227.85) scale(1.0,1.06)" font-size="8.4" font-weight="normal" fill="#111" stroke="#111" stroke-width="0.14" text-anchor="start" >B</text>
<path transform="translate(598.34,223.35)" d="M0.35,0 V4.4 C1.7,4.0 2.7,3.3 2.7,2.5 C2.7,1.6 1.4,1.5 0.35,2.3" fill="none" stroke="#222" stroke-width="0.7"/>
<text transform="translate(594.34,236.35) scale(1.0,1.06)" font-size="8.4" font-weight="normal" fill="#111" stroke="#111" stroke-width="0.14" text-anchor="start" >G</text>
<text transform="translate(594.53,244.85) scale(1.0,1.06)" font-size="8.4" font-weight="normal" fill="#111" stroke="#111" stroke-width="0.14" text-anchor="start" >E</text>
<circle cx="637.55" cy="233" r="12.8" fill="#d9e4f1"/>
<text transform="translate(634.81,227.85) scale(1.0,1.06)" font-size="8.4" font-weight="normal" fill="#111" stroke="#111" stroke-width="0.14" text-anchor="start" >F</text>
<text transform="translate(634.37,236.35) scale(1.0,1.06)" font-size="8.4" font-weight="normal" fill="#111" stroke="#111" stroke-width="0.14" text-anchor="start" >D</text>
<text transform="translate(634.63,244.85) scale(1.0,1.06)" font-size="8.4" font-weight="normal" fill="#111" stroke="#111" stroke-width="0.14" text-anchor="start" >B</text>
<circle cx="677.60" cy="233" r="12.8" fill="#d9e4f1"/>
<text transform="translate(674.51,227.85) scale(1.0,1.06)" font-size="8.4" font-weight="normal" fill="#111" stroke="#111" stroke-width="0.14" text-anchor="start" >C</text>
<text transform="translate(674.80,236.35) scale(1.0,1.06)" font-size="8.4" font-weight="normal" fill="#111" stroke="#111" stroke-width="0.14" text-anchor="start" >A</text>
<text transform="translate(672.51,244.85) scale(1.0,1.06)" font-size="8.4" font-weight="normal" fill="#111" stroke="#111" stroke-width="0.14" text-anchor="start" >F</text>
<g transform="translate(678.00,239.85)"><path d="M1.0,0.5 V5 M2.2,0 V4.5" fill="none" stroke="#222" stroke-width="0.45"/><path d="M0.1,2.0 L3.0,1.3 M0.1,3.8 L3.0,3.1" fill="none" stroke="#222" stroke-width="0.7"/></g>
<circle cx="717.65" cy="233" r="12.8" fill="#d9e4f1"/>
<text transform="translate(714.49,227.85) scale(1.0,1.06)" font-size="8.4" font-weight="normal" fill="#111" stroke="#111" stroke-width="0.14" text-anchor="start" >G</text>
<text transform="translate(714.68,236.35) scale(1.0,1.06)" font-size="8.4" font-weight="normal" fill="#111" stroke="#111" stroke-width="0.14" text-anchor="start" >E</text>
<text transform="translate(712.21,244.85) scale(1.0,1.06)" font-size="8.4" font-weight="normal" fill="#111" stroke="#111" stroke-width="0.14" text-anchor="start" >C</text>
<g transform="translate(718.66,239.85)"><path d="M1.0,0.5 V5 M2.2,0 V4.5" fill="none" stroke="#222" stroke-width="0.45"/><path d="M0.1,2.0 L3.0,1.3 M0.1,3.8 L3.0,3.1" fill="none" stroke="#222" stroke-width="0.7"/></g>
<circle cx="757.70" cy="233" r="12.8" fill="#d9e4f1"/>
<text transform="translate(754.52,227.85) scale(1.0,1.06)" font-size="8.4" font-weight="normal" fill="#111" stroke="#111" stroke-width="0.14" text-anchor="start" >D</text>
<text transform="translate(754.78,236.35) scale(1.0,1.06)" font-size="8.4" font-weight="normal" fill="#111" stroke="#111" stroke-width="0.14" text-anchor="start" >B</text>
<text transform="translate(752.19,244.85) scale(1.0,1.06)" font-size="8.4" font-weight="normal" fill="#111" stroke="#111" stroke-width="0.14" text-anchor="start" >G</text>
<g transform="translate(758.79,239.85)"><path d="M1.0,0.5 V5 M2.2,0 V4.5" fill="none" stroke="#222" stroke-width="0.45"/><path d="M0.1,2.0 L3.0,1.3 M0.1,3.8 L3.0,3.1" fill="none" stroke="#222" stroke-width="0.7"/></g>
<circle cx="797.75" cy="233" r="12.8" fill="#d9e4f1"/>
<text transform="translate(794.95,227.85) scale(1.0,1.06)" font-size="8.4" font-weight="normal" fill="#111" stroke="#111" stroke-width="0.14" text-anchor="start" >A</text>
<text transform="translate(792.66,236.35) scale(1.0,1.06)" font-size="8.4" font-weight="normal" fill="#111" stroke="#111" stroke-width="0.14" text-anchor="start" >F</text>
<g transform="translate(798.15,231.35)"><path d="M1.0,0.5 V5 M2.2,0 V4.5" fill="none" stroke="#222" stroke-width="0.45"/><path d="M0.1,2.0 L3.0,1.3 M0.1,3.8 L3.0,3.1" fill="none" stroke="#222" stroke-width="0.7"/></g>
<text transform="translate(792.22,244.85) scale(1.0,1.06)" font-size="8.4" font-weight="normal" fill="#111" stroke="#111" stroke-width="0.14" text-anchor="start" >D</text>
<g transform="translate(798.59,239.85)"><path d="M1.0,0.5 V5 M2.2,0 V4.5" fill="none" stroke="#222" stroke-width="0.45"/><path d="M0.1,2.0 L3.0,1.3 M0.1,3.8 L3.0,3.1" fill="none" stroke="#222" stroke-width="0.7"/></g>
<circle cx="837.80" cy="233" r="12.8" fill="#d9e4f1"/>
<text transform="translate(834.83,227.85) scale(1.0,1.06)" font-size="8.4" font-weight="normal" fill="#111" stroke="#111" stroke-width="0.14" text-anchor="start" >E</text>
<text transform="translate(832.36,236.35) scale(1.0,1.06)" font-size="8.4" font-weight="normal" fill="#111" stroke="#111" stroke-width="0.14" text-anchor="start" >C</text>
<g transform="translate(838.81,231.35)"><path d="M1.0,0.5 V5 M2.2,0 V4.5" fill="none" stroke="#222" stroke-width="0.45"/><path d="M0.1,2.0 L3.0,1.3 M0.1,3.8 L3.0,3.1" fill="none" stroke="#222" stroke-width="0.7"/></g>
<text transform="translate(832.65,244.85) scale(1.0,1.06)" font-size="8.4" font-weight="normal" fill="#111" stroke="#111" stroke-width="0.14" text-anchor="start" >A</text>
<g transform="translate(838.93,239.85)"><path d="M1.0,0.5 V5 M2.2,0 V4.5" fill="none" stroke="#222" stroke-width="0.45"/><path d="M0.1,2.0 L3.0,1.3 M0.1,3.8 L3.0,3.1" fill="none" stroke="#222" stroke-width="0.7"/></g>
<circle cx="877.85" cy="233" r="12.8" fill="#d9e4f1"/>
<text transform="translate(874.93,227.85) scale(1.0,1.06)" font-size="8.4" font-weight="normal" fill="#111" stroke="#111" stroke-width="0.14" text-anchor="start" >B</text>
<text transform="translate(872.34,236.35) scale(1.0,1.06)" font-size="8.4" font-weight="normal" fill="#111" stroke="#111" stroke-width="0.14" text-anchor="start" >G</text>
<g transform="translate(878.94,231.35)"><path d="M1.0,0.5 V5 M2.2,0 V4.5" fill="none" stroke="#222" stroke-width="0.45"/><path d="M0.1,2.0 L3.0,1.3 M0.1,3.8 L3.0,3.1" fill="none" stroke="#222" stroke-width="0.7"/></g>
<text transform="translate(872.53,244.85) scale(1.0,1.06)" font-size="8.4" font-weight="normal" fill="#111" stroke="#111" stroke-width="0.14" text-anchor="start" >E</text>
<g transform="translate(878.48,239.85)"><path d="M1.0,0.5 V5 M2.2,0 V4.5" fill="none" stroke="#222" stroke-width="0.45"/><path d="M0.1,2.0 L3.0,1.3 M0.1,3.8 L3.0,3.1" fill="none" stroke="#222" stroke-width="0.7"/></g>
<circle cx="917.90" cy="233" r="12.8" fill="#d9e4f1"/>
<text transform="translate(912.81,227.85) scale(1.0,1.06)" font-size="8.4" font-weight="normal" fill="#111" stroke="#111" stroke-width="0.14" text-anchor="start" >F</text>
<g transform="translate(918.30,222.85)"><path d="M1.0,0.5 V5 M2.2,0 V4.5" fill="none" stroke="#222" stroke-width="0.45"/><path d="M0.1,2.0 L3.0,1.3 M0.1,3.8 L3.0,3.1" fill="none" stroke="#222" stroke-width="0.7"/></g>
<text transform="translate(912.37,236.35) scale(1.0,1.06)" font-size="8.4" font-weight="normal" fill="#111" stroke="#111" stroke-width="0.14" text-anchor="start" >D</text>
<g transform="translate(918.74,231.35)"><path d="M1.0,0.5 V5 M2.2,0 V4.5" fill="none" stroke="#222" stroke-width="0.45"/><path d="M0.1,2.0 L3.0,1.3 M0.1,3.8 L3.0,3.1" fill="none" stroke="#222" stroke-width="0.7"/></g>
<text transform="translate(912.63,244.85) scale(1.0,1.06)" font-size="8.4" font-weight="normal" fill="#111" stroke="#111" stroke-width="0.14" text-anchor="start" >B</text>
<g transform="translate(918.49,239.85)"><path d="M1.0,0.5 V5 M2.2,0 V4.5" fill="none" stroke="#222" stroke-width="0.45"/><path d="M0.1,2.0 L3.0,1.3 M0.1,3.8 L3.0,3.1" fill="none" stroke="#222" stroke-width="0.7"/></g>
<circle cx="957.95" cy="233" r="12.8" fill="#d9e4f1"/>
<text transform="translate(952.51,227.85) scale(1.0,1.06)" font-size="8.4" font-weight="normal" fill="#111" stroke="#111" stroke-width="0.14" text-anchor="start" >C</text>
<g transform="translate(958.96,222.85)"><path d="M1.0,0.5 V5 M2.2,0 V4.5" fill="none" stroke="#222" stroke-width="0.45"/><path d="M0.1,2.0 L3.0,1.3 M0.1,3.8 L3.0,3.1" fill="none" stroke="#222" stroke-width="0.7"/></g>
<text transform="translate(952.80,236.35) scale(1.0,1.06)" font-size="8.4" font-weight="normal" fill="#111" stroke="#111" stroke-width="0.14" text-anchor="start" >A</text>
<g transform="translate(959.08,231.35)"><path d="M1.0,0.5 V5 M2.2,0 V4.5" fill="none" stroke="#222" stroke-width="0.45"/><path d="M0.1,2.0 L3.0,1.3 M0.1,3.8 L3.0,3.1" fill="none" stroke="#222" stroke-width="0.7"/></g>
<text transform="translate(953.11,244.85) scale(1.0,1.06)" font-size="8.4" font-weight="normal" fill="#111" stroke="#111" stroke-width="0.14" text-anchor="start" >F</text>
<rect transform="translate(958.70,241.45)" x="0" y="0" width="2.4" height="2.4" fill="#222"/>
<circle cx="202.2" cy="348.6" r="12.2" fill="#f9a3a5" stroke="#0a2ac4" stroke-width="2.0"/>
<circle cx="467.2" cy="348.6" r="12.2" fill="#fff" stroke="#0a2ac4" stroke-width="2.0"/>
<circle cx="709" cy="348.5" r="13" fill="#d9e4f1"/>
<text transform="translate(232.02,354.00) scale(1.035,1.0)" font-size="17.0" font-weight="bold" fill="#000" stroke="#000" stroke-width="0.42" text-anchor="start" >Button with concave</text>
<text transform="translate(232.48,374.70) scale(1.035,1.0)" font-size="17.0" font-weight="bold" fill="#000" stroke="#000" stroke-width="0.42" text-anchor="start" >depression</text>
<text x="231.90" y="389.20" font-size="11.65" font-weight="normal" fill="#000" stroke="#000" stroke-width="0.26" text-anchor="start" >Use as navigation points.</text>
<text x="232.08" y="402.40" font-size="11.65" font-weight="normal" fill="#000" stroke="#000" stroke-width="0.26" text-anchor="start" >(Bass-note button)</text>
<text transform="translate(495.52,354.00) scale(1.035,1.0)" font-size="17.0" font-weight="bold" fill="#000" stroke="#000" stroke-width="0.42" text-anchor="start" >Bass-note button</text>
<text x="495.67" y="367.90" font-size="11.65" font-weight="normal" fill="#000" stroke="#000" stroke-width="0.26" text-anchor="start" >Sounds one or more of the</text>
<text x="495.88" y="381.90" font-size="11.65" font-weight="normal" fill="#000" stroke="#000" stroke-width="0.26" text-anchor="start" >same note (in different</text>
<text x="495.71" y="395.80" font-size="11.65" font-weight="normal" fill="#000" stroke="#000" stroke-width="0.26" text-anchor="start" >octaves) when played.</text>
<text transform="translate(745.18,354.00) scale(1.035,1.0)" font-size="17.0" font-weight="bold" fill="#000" stroke="#000" stroke-width="0.42" text-anchor="start" >Chord button</text>
<text x="744.97" y="367.90" font-size="11.65" font-weight="normal" fill="#000" stroke="#000" stroke-width="0.26" text-anchor="start" >Sounds a three-note chord</text>
<text x="745.52" y="381.90" font-size="11.65" font-weight="normal" fill="#000" stroke="#000" stroke-width="0.26" text-anchor="start" >when played.</text>
</svg>
</body></html>
